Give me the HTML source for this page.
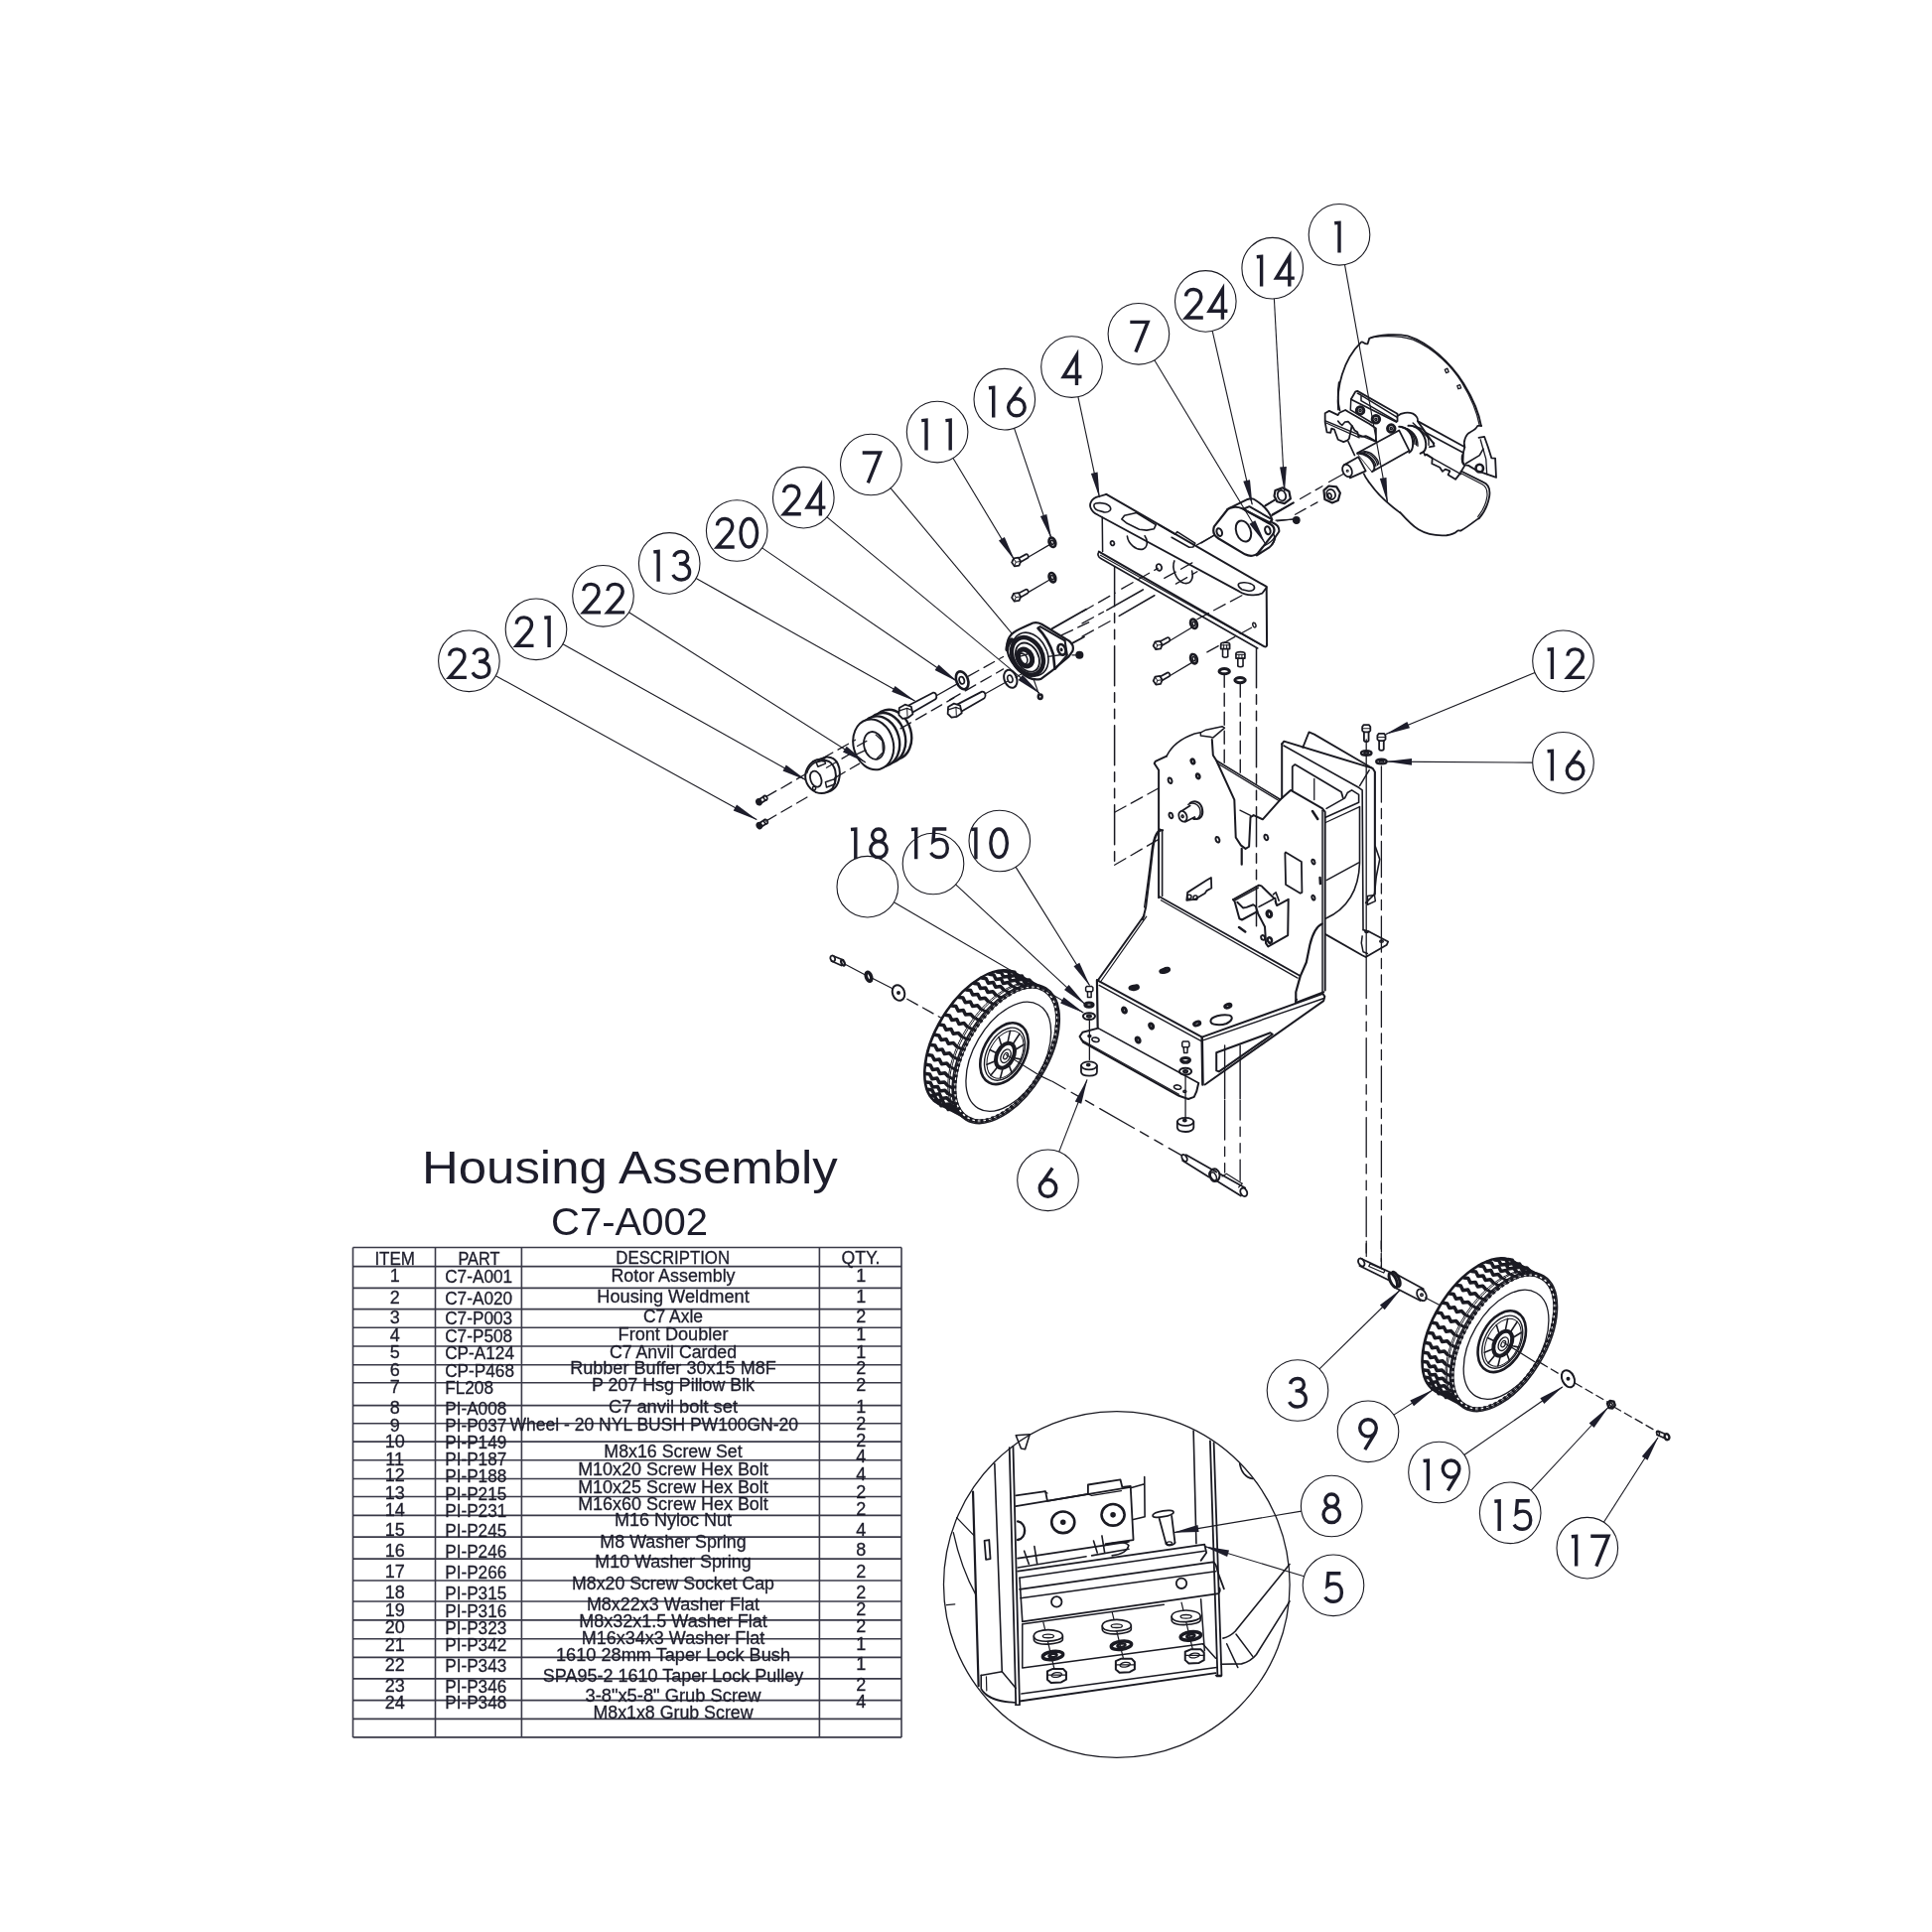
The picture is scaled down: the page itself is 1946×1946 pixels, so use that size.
<!DOCTYPE html>
<html><head><meta charset="utf-8"><style>
html,body{margin:0;padding:0;background:#fff;}
svg{display:block;will-change:transform;}
.bl{font-family:"Liberation Sans",sans-serif;font-size:43.5px;fill:#1d1d2b;text-anchor:middle;}
.ttl{font-family:"Liberation Sans",sans-serif;font-size:46px;fill:#1d1d2b;}
.ttl2{font-family:"Liberation Sans",sans-serif;font-size:38px;fill:#1d1d2b;}
.tb{font-family:"Liberation Sans",sans-serif;font-size:18px;fill:#1d1d2b;stroke:#1d1d2b;stroke-width:0.3px;}
</style></head><body>
<svg width="1946" height="1946" viewBox="0 0 1946 1946" xmlns="http://www.w3.org/2000/svg">
<rect width="1946" height="1946" fill="#fff"/>
<g fill="none" stroke="#1a1a22" stroke-linejoin="round" stroke-linecap="round">
<g transform="translate(1080,700) scale(0.175994)">
<path d="M495,1160 L495,430 L470,392 L476,380 L540,350" stroke-width="2.0" fill="none" vector-effect="non-scaling-stroke"/>
<path d="M515,1150 L515,775 L500,768" stroke-width="1.6" fill="none" vector-effect="non-scaling-stroke"/>
<path d="M540,350 C565,300 620,250 700,222 L735,215" stroke-width="1.6" fill="none" vector-effect="non-scaling-stroke"/>
<path d="M735,215 L765,200 L858,180 L872,188 L805,245 L790,240 L735,233 Z" stroke-width="1.5" fill="none" vector-effect="non-scaling-stroke"/>
<path d="M800,255 L806,345 L825,375 L928,600 L936,815 L965,860 L992,880 L1012,868 L1020,700 L1038,688 L1090,712 L1190,600" stroke-width="2.0" fill="none" vector-effect="non-scaling-stroke"/>
<path d="M960,660 L1020,690" stroke-width="1.3" fill="none" vector-effect="non-scaling-stroke"/>
<path d="M970,880 L970,970" stroke-width="2.2" fill="none" vector-effect="non-scaling-stroke"/>
<path d="M825,375 L1190,598" stroke-width="1.6" fill="none" vector-effect="non-scaling-stroke"/>
<path d="M832,392 L1180,604" stroke-width="1.3" fill="none" vector-effect="non-scaling-stroke"/>
<path d="M1190,600 L1250,545 L1432,650 L1447,670 L1447,1690" stroke-width="2.0" fill="none" vector-effect="non-scaling-stroke"/>
<path d="M1432,660 L1432,1700" stroke-width="1.5" fill="none" vector-effect="non-scaling-stroke"/>
<path d="M1430,1310 C1395,1325 1375,1370 1360,1430 L1340,1530 L1305,1610 L1280,1700 L1280,1760" stroke-width="2.2" fill="none" vector-effect="non-scaling-stroke"/>
<path d="M500,1155 L1300,1605" stroke-width="1.8" fill="none" vector-effect="non-scaling-stroke"/>
<path d="M508,1175 L1290,1620" stroke-width="1.3" fill="none" vector-effect="non-scaling-stroke"/>
<path d="M412,1262 L142,1640" stroke-width="1.8" fill="none" vector-effect="non-scaling-stroke"/>
<path d="M425,1268 L160,1645" stroke-width="1.2" fill="none" vector-effect="non-scaling-stroke"/>
<path d="M1280,1760 L1440,1700" stroke-width="1.8" fill="none" vector-effect="non-scaling-stroke"/>
<path d="M698.5,376.9 A9.0,14.0 -20.0 1,0 681.5,383.1 A9.0,14.0 -20.0 1,0 698.5,376.9 Z" stroke-width="2.5" fill="none" vector-effect="non-scaling-stroke"/>
<path d="M728.5,461.9 A9.0,14.0 -20.0 1,0 711.5,468.1 A9.0,14.0 -20.0 1,0 728.5,461.9 Z" stroke-width="2.5" fill="none" vector-effect="non-scaling-stroke"/>
<path d="M569.4,486.6 A10.0,16.0 -20.0 1,0 550.6,493.4 A10.0,16.0 -20.0 1,0 569.4,486.6 Z" stroke-width="2.0" fill="none" vector-effect="non-scaling-stroke"/>
<path d="M574.4,686.6 A10.0,16.0 -20.0 1,0 555.6,693.4 A10.0,16.0 -20.0 1,0 574.4,686.6 Z" stroke-width="2.0" fill="none" vector-effect="non-scaling-stroke"/>
<path d="M841.4,824.6 A10.0,16.0 -20.0 1,0 822.6,831.4 A10.0,16.0 -20.0 1,0 841.4,824.6 Z" stroke-width="2.0" fill="none" vector-effect="non-scaling-stroke"/>
<path d="M1119.4,811.6 A10.0,16.0 -20.0 1,0 1100.6,818.4 A10.0,16.0 -20.0 1,0 1119.4,811.6 Z" stroke-width="2.0" fill="none" vector-effect="non-scaling-stroke"/>
<path d="M1387.5,952.3 A8.0,13.0 -20.0 1,0 1372.5,957.7 A8.0,13.0 -20.0 1,0 1387.5,952.3 Z" stroke-width="2.0" fill="none" vector-effect="non-scaling-stroke"/>
<path d="M1387.5,1157.3 A8.0,13.0 -20.0 1,0 1372.5,1162.7 A8.0,13.0 -20.0 1,0 1387.5,1157.3 Z" stroke-width="2.0" fill="none" vector-effect="non-scaling-stroke"/>
<path d="M1137.4,1251.6 A10.0,16.0 -20.0 1,0 1118.6,1258.4 A10.0,16.0 -20.0 1,0 1137.4,1251.6 Z" stroke-width="2.0" fill="none" vector-effect="non-scaling-stroke"/>
<path d="M535.8,1577.2 A16.0,8.0 -10.0 1,0 504.2,1582.8 A16.0,8.0 -10.0 1,0 535.8,1577.2 Z" stroke-width="3.0" fill="none" vector-effect="non-scaling-stroke"/>
<path d="M360.8,1672.2 A16.0,8.0 -10.0 1,0 329.2,1677.8 A16.0,8.0 -10.0 1,0 360.8,1672.2 Z" stroke-width="3.0" fill="none" vector-effect="non-scaling-stroke"/>
<path d="M655,1175 L660,1130 L770,1060 L795,1045 L797,1105 L770,1120 L760,1135 L700,1170 Z" stroke-width="1.8" fill="none" vector-effect="non-scaling-stroke"/>
<path d="M682.0,1155.0 A12.0,12.0 0.0 1,0 658.0,1155.0 A12.0,12.0 0.0 1,0 682.0,1155.0 Z M717.0,1160.0 A12.0,12.0 0.0 1,0 693.0,1160.0 A12.0,12.0 0.0 1,0 717.0,1160.0 Z" stroke-width="1.5" fill="none" vector-effect="non-scaling-stroke"/>
<path d="M1218,905 L1222,900 L1312,955 L1315,1130 L1305,1135 L1222,1085 Z" stroke-width="1.8" fill="none" vector-effect="non-scaling-stroke"/>
<path d="M1375,665 L1405,710 M1418,1045 L1420,1080 M955,1330 L990,1355" stroke-width="2.5" fill="none" vector-effect="non-scaling-stroke"/>
<path d="M1200,280 L1212,265 L1720,420 L1732,440 L1732,1140" stroke-width="2.0" fill="none" vector-effect="non-scaling-stroke"/>
<path d="M1200,280 L1200,590" stroke-width="2.0" fill="none" vector-effect="non-scaling-stroke"/>
<path d="M1320,300 L1355,212 L1385,225 L1715,418" stroke-width="1.8" fill="none" vector-effect="non-scaling-stroke"/>
<path d="M1210,290 L1640,530 L1660,545 L1665,1340" stroke-width="1.6" fill="none" vector-effect="non-scaling-stroke"/>
<path d="M1645,520 L1700,430" stroke-width="1.5" fill="none" vector-effect="non-scaling-stroke"/>
<path d="M1260,410 L1275,398 L1540,555 L1550,590 M1260,410 L1260,545" stroke-width="1.8" fill="none" vector-effect="non-scaling-stroke"/>
<path d="M1385,480 L1385,600" stroke-width="1.3" fill="none" vector-effect="non-scaling-stroke"/>
<path d="M1450,700 L1640,615 L1640,570 L1600,545 L1575,560 L1560,590 L1455,650" stroke-width="1.6" fill="none" vector-effect="non-scaling-stroke"/>
<path d="M1450,730 L1645,640" stroke-width="1.3" fill="none" vector-effect="non-scaling-stroke"/>
<path d="M1455,1060 L1640,960" stroke-width="1.5" fill="none" vector-effect="non-scaling-stroke"/>
<path d="M1450,1280 C1560,1230 1640,1130 1645,960 L1645,640" stroke-width="1.6" fill="none" vector-effect="non-scaling-stroke"/>
<path d="M1732,440 L1732,860 L1760,940 L1740,1040 L1730,1140 L1700,1170 L1680,1190" stroke-width="1.6" fill="none" vector-effect="non-scaling-stroke"/>
<path d="M1690,1150 L1730,1145 L1735,1180 L1690,1200 Z" stroke-width="1.5" fill="none" vector-effect="non-scaling-stroke"/>
<path d="M1450,1370 L1660,1490 L1680,1500 L1800,1430 L1808,1412 L1700,1355 L1665,1345" stroke-width="1.8" fill="none" vector-effect="non-scaling-stroke"/>
<path d="M1660,1380 L1655,1420 L1665,1470 L1690,1480" stroke-width="1.5" fill="none" vector-effect="non-scaling-stroke"/>
<path d="M1780.0,1410.0 A10.0,6.0 0.0 1,0 1760.0,1410.0 A10.0,6.0 0.0 1,0 1780.0,1410.0 Z M1695.0,1355.0 A10.0,6.0 0.0 1,0 1675.0,1355.0 A10.0,6.0 0.0 1,0 1695.0,1355.0 Z" stroke-width="1.5" fill="none" vector-effect="non-scaling-stroke"/>
</g>
<g transform="translate(1060,940) scale(0.144928)">
<path d="M310,328 L315,652" stroke-width="2.2" fill="none" vector-effect="non-scaling-stroke"/>
<path d="M310,325 L1040,722" stroke-width="2.0" fill="none" vector-effect="non-scaling-stroke"/>
<path d="M325,362 L1032,748" stroke-width="1.4" fill="none" vector-effect="non-scaling-stroke"/>
<path d="M1040,722 L1880,420 L1893,440 L1885,470 L1060,1052" stroke-width="2.0" fill="none" vector-effect="non-scaling-stroke"/>
<path d="M1052,742 L1888,452" stroke-width="1.4" fill="none" vector-effect="non-scaling-stroke"/>
<path d="M1040,730 L1045,1052" stroke-width="2.6" fill="none" vector-effect="non-scaling-stroke"/>
<path d="M1690,470 L1700,460" stroke-width="1.5" fill="none" vector-effect="non-scaling-stroke"/>
<path d="M1140,830 L1515,692 L1530,702 L1158,962 L1140,955 Z" stroke-width="2.0" fill="none" vector-effect="non-scaling-stroke"/>
<path d="M318,660 L1018,1042" stroke-width="1.6" fill="none" vector-effect="non-scaling-stroke"/>
<path d="M318,660 L210,688 L190,718 L215,758 L880,1130 L945,1152 L985,1138 L1002,1100 L1015,1045" stroke-width="2.0" fill="none" vector-effect="non-scaling-stroke"/>
<path d="M200,740 L880,1120" stroke-width="1.2" fill="none" vector-effect="non-scaling-stroke"/>
<path d="M324.6,744.3 A25.0,14.0 10.0 1,0 275.4,735.7 A25.0,14.0 10.0 1,0 324.6,744.3 Z" stroke-width="1.6" fill="none" vector-effect="non-scaling-stroke"/>
<path d="M894.6,1074.3 A25.0,14.0 10.0 1,0 845.4,1065.7 A25.0,14.0 10.0 1,0 894.6,1074.3 Z" stroke-width="1.6" fill="none" vector-effect="non-scaling-stroke"/>
<path d="M268.0,715.0 A10.0,7.0 0.0 1,0 248.0,715.0 A10.0,7.0 0.0 1,0 268.0,715.0 Z" stroke-width="1.6" fill="none" vector-effect="non-scaling-stroke"/>
<path d="M930.0,1100.0 A10.0,7.0 0.0 1,0 910.0,1100.0 A10.0,7.0 0.0 1,0 930.0,1100.0 Z" stroke-width="1.6" fill="none" vector-effect="non-scaling-stroke"/>
<path d="M510.9,529.9 A12.0,18.0 -25.0 1,0 489.1,540.1 A12.0,18.0 -25.0 1,0 510.9,529.9 Z" stroke-width="3.0" fill="none" vector-effect="non-scaling-stroke"/>
<path d="M698.9,639.9 A12.0,18.0 -25.0 1,0 677.1,650.1 A12.0,18.0 -25.0 1,0 698.9,639.9 Z" stroke-width="3.0" fill="none" vector-effect="non-scaling-stroke"/>
<path d="M605.9,736.9 A12.0,18.0 -25.0 1,0 584.1,747.1 A12.0,18.0 -25.0 1,0 605.9,736.9 Z" stroke-width="3.0" fill="none" vector-effect="non-scaling-stroke"/>
<path d="M810.7,248.5 A22.0,12.0 -20.0 1,0 769.3,263.5 A22.0,12.0 -20.0 1,0 810.7,248.5 Z" stroke-width="3.0" fill="none" vector-effect="non-scaling-stroke"/>
<path d="M595.7,370.5 A22.0,12.0 -20.0 1,0 554.3,385.5 A22.0,12.0 -20.0 1,0 595.7,370.5 Z" stroke-width="3.0" fill="none" vector-effect="non-scaling-stroke"/>
<path d="M1240.7,497.5 A22.0,12.0 -20.0 1,0 1199.3,512.5 A22.0,12.0 -20.0 1,0 1240.7,497.5 Z" stroke-width="3.0" fill="none" vector-effect="non-scaling-stroke"/>
<path d="M1025.7,620.5 A22.0,12.0 -20.0 1,0 984.3,635.5 A22.0,12.0 -20.0 1,0 1025.7,620.5 Z" stroke-width="3.0" fill="none" vector-effect="non-scaling-stroke"/>
<path d="M1100,610 C1100,580 1180,560 1230,570 C1260,580 1250,610 1210,628 C1170,642 1100,640 1100,610 Z" stroke-width="2.0" fill="none" vector-effect="non-scaling-stroke"/>
<path d="M232,378 L238,370 L275,370 L282,378 L282,398 L275,405 L238,405 L232,398 Z M245,405 L245,445 L270,445 L270,405" stroke-width="1.5" fill="none" vector-effect="non-scaling-stroke"/>
<path d="M283.0,497.0 A28.0,14.0 0.0 1,0 227.0,497.0 A28.0,14.0 0.0 1,0 283.0,497.0 Z" stroke-width="3.2" fill="none" vector-effect="non-scaling-stroke"/>
<path d="M297.0,577.0 A42.0,24.0 0.0 1,0 213.0,577.0 A42.0,24.0 0.0 1,0 297.0,577.0 Z M269.0,577.0 A14.0,7.0 0.0 1,0 241.0,577.0 A14.0,7.0 0.0 1,0 269.0,577.0 Z" stroke-width="2.0" fill="none" vector-effect="non-scaling-stroke"/>
<path d="M258,605 L258,880" stroke-width="1.3" fill="none" vector-effect="non-scaling-stroke"/>
<path d="M200,920 L200,965 C205,1000 310,1000 310,965 L310,920" stroke-width="1.8" fill="none" vector-effect="non-scaling-stroke"/>
<path d="M200,920 a55,28 0 1,0 110,0 a55,28 0 1,0 -110,0" stroke-width="1.8" fill="none" vector-effect="non-scaling-stroke"/>
<path d="M258.0,915.0 A8.0,5.0 0.0 1,0 242.0,915.0 A8.0,5.0 0.0 1,0 258.0,915.0 Z" stroke-width="2.5" fill="none" vector-effect="non-scaling-stroke"/>
<path d="M902,762 L908,752 L945,752 L952,762 L952,785 L945,792 L908,792 L902,785 Z M912,792 L915,832 L938,832 L940,792" stroke-width="1.5" fill="none" vector-effect="non-scaling-stroke"/>
<path d="M955.0,882.0 A30.0,16.0 0.0 1,0 895.0,882.0 A30.0,16.0 0.0 1,0 955.0,882.0 Z" stroke-width="3.2" fill="none" vector-effect="non-scaling-stroke"/>
<path d="M967.0,960.0 A42.0,24.0 0.0 1,0 883.0,960.0 A42.0,24.0 0.0 1,0 967.0,960.0 Z M939.0,960.0 A14.0,7.0 0.0 1,0 911.0,960.0 A14.0,7.0 0.0 1,0 939.0,960.0 Z" stroke-width="2.0" fill="none" vector-effect="non-scaling-stroke"/>
<path d="M925,985 L925,1290" stroke-width="1.3" fill="none" vector-effect="non-scaling-stroke"/>
<path d="M868,1310 L868,1350 C872,1390 980,1390 982,1350 L982,1310" stroke-width="1.8" fill="none" vector-effect="non-scaling-stroke"/>
<path d="M868,1310 a57,28 0 1,0 114,0 a57,28 0 1,0 -114,0" stroke-width="1.8" fill="none" vector-effect="non-scaling-stroke"/>
<path d="M928.0,1300.0 A8.0,5.0 0.0 1,0 912.0,1300.0 A8.0,5.0 0.0 1,0 928.0,1300.0 Z" stroke-width="2.5" fill="none" vector-effect="non-scaling-stroke"/>
<path d="M930,1540 L1140,1660 M905,1580 L1090,1695" stroke-width="1.8" fill="none" vector-effect="non-scaling-stroke"/>
<path d="M931.9,1554.0 A16.0,26.0 -30.0 1,0 904.1,1570.0 A16.0,26.0 -30.0 1,0 931.9,1554.0 Z" stroke-width="1.8" fill="none" vector-effect="non-scaling-stroke"/>
<path d="M1095,1690 C1080,1665 1110,1630 1140,1640 C1160,1655 1170,1670 1160,1700 C1150,1730 1110,1740 1095,1690 Z" stroke-width="2.0" fill="none" vector-effect="non-scaling-stroke"/>
<path d="M1135.6,1681.0 A18.0,30.0 -30.0 1,0 1104.4,1699.0 A18.0,30.0 -30.0 1,0 1135.6,1681.0 Z" stroke-width="1.5" fill="none" vector-effect="non-scaling-stroke"/>
<path d="M1160,1670 L1340,1770 M1140,1720 L1310,1825" stroke-width="1.8" fill="none" vector-effect="non-scaling-stroke"/>
<path d="M1349.1,1789.0 A22.0,30.0 -30.0 1,0 1310.9,1811.0 A22.0,30.0 -30.0 1,0 1349.1,1789.0 Z" stroke-width="1.8" fill="none" vector-effect="non-scaling-stroke"/>
<path d="M1180,1690 L1210,1672 L1320,1740 M1295,1765 L1320,1740" stroke-width="1.2" fill="none" vector-effect="non-scaling-stroke"/>
</g>
<g transform="translate(1060,940) scale(0.144928)">
<path d="M0,1030 L900,1545" stroke-width="1.3" fill="none" vector-effect="non-scaling-stroke" stroke-dasharray="40,7,9.5,7,9.5,7" stroke-dashoffset="25"/>
<path d="M1198,780 L1198,1150 M1305,780 L1305,1150" stroke-width="1.4" fill="none" vector-effect="non-scaling-stroke"/>
<path d="M1198,1160 L1198,1690" stroke-width="1.3" fill="none" vector-effect="non-scaling-stroke" stroke-dasharray="40,7,9.5,7,9.5,7"/>
<path d="M1305,1160 L1305,1720" stroke-width="1.3" fill="none" vector-effect="non-scaling-stroke" stroke-dasharray="40,7,9.5,7,9.5,7" stroke-dashoffset="20"/>
</g>
<circle cx="1124.8" cy="1596" r="174.3" stroke-width="1.3" fill="none"/>
<g transform="translate(945,1415) scale(0.186324)">
<path d="M188,470 L218,1520" stroke-width="2.2" fill="none" vector-effect="non-scaling-stroke"/>
<path d="M305,318 L345,1442" stroke-width="1.6" fill="none" vector-effect="non-scaling-stroke"/>
<path d="M385,232 L420,1622" stroke-width="1.8" fill="none" vector-effect="non-scaling-stroke"/>
<path d="M405,225 L440,1620" stroke-width="1.8" fill="none" vector-effect="non-scaling-stroke"/>
<path d="M100,610 L192,705" stroke-width="1.3" fill="none" vector-effect="non-scaling-stroke"/>
<path d="M82,690 C110,820 150,930 205,1030" stroke-width="1.3" fill="none" vector-effect="non-scaling-stroke"/>
<path d="M250,735 L275,730 L282,832 L258,836 Z" stroke-width="1.8" fill="none" vector-effect="non-scaling-stroke"/>
<path d="M45,1082 L90,1078" stroke-width="1.3" fill="none" vector-effect="non-scaling-stroke"/>
<path d="M420,165 L495,160 L470,240 L448,236 Z" stroke-width="1.6" fill="none" vector-effect="non-scaling-stroke"/>
<path d="M1630,320 C1640,370 1670,395 1700,400" stroke-width="1.6" fill="none" vector-effect="non-scaling-stroke"/>
<path d="M1380,140 L1395,750" stroke-width="1.6" fill="none" vector-effect="non-scaling-stroke"/>
<path d="M1470,195 L1510,1462" stroke-width="1.8" fill="none" vector-effect="non-scaling-stroke"/>
<path d="M1490,205 L1532,1462" stroke-width="1.8" fill="none" vector-effect="non-scaling-stroke"/>
<path d="M1500,1462 L1530,1462" stroke-width="1.5" fill="none" vector-effect="non-scaling-stroke"/>
<path d="M1540,1262 C1570,1255 1590,1240 1605,1225 L1900,862" stroke-width="1.6" fill="none" vector-effect="non-scaling-stroke"/>
<path d="M1610,1240 L1700,1360" stroke-width="1.5" fill="none" vector-effect="non-scaling-stroke"/>
<path d="M1560,1292 L1620,1420" stroke-width="1.5" fill="none" vector-effect="non-scaling-stroke"/>
<path d="M1530,1402 L1640,1400 C1680,1390 1700,1375 1720,1350 L1900,1062" stroke-width="1.6" fill="none" vector-effect="non-scaling-stroke"/>
<path d="M232,1462 L345,1442" stroke-width="1.5" fill="none" vector-effect="non-scaling-stroke"/>
<path d="M232,1462 L232,1535 C260,1585 320,1605 420,1610" stroke-width="1.6" fill="none" vector-effect="non-scaling-stroke"/>
<path d="M260,1470 L262,1545" stroke-width="1.2" fill="none" vector-effect="non-scaling-stroke"/>
<path d="M345,1442 L420,1532" stroke-width="1.5" fill="none" vector-effect="non-scaling-stroke"/>
<path d="M440,1602 L1500,1450" stroke-width="1.8" fill="none" vector-effect="non-scaling-stroke"/>
<path d="M450,1562 L1505,1420" stroke-width="1.5" fill="none" vector-effect="non-scaling-stroke"/>
<path d="M455,1422 L1430,1292" stroke-width="1.5" fill="none" vector-effect="non-scaling-stroke"/>
<path d="M1430,1292 L1500,1370" stroke-width="1.5" fill="none" vector-effect="non-scaling-stroke"/>
<path d="M418,1622 L440,1622 M1505,1468 L1530,1468" stroke-width="1.5" fill="none" vector-effect="non-scaling-stroke"/>
<path d="M420,490 L580,468 L590,520 L810,482 L810,432 L985,405 L995,445 L1040,440" stroke-width="1.8" fill="none" vector-effect="non-scaling-stroke"/>
<path d="M420,548 L1040,445 L1055,730 L905,752" stroke-width="1.8" fill="none" vector-effect="non-scaling-stroke"/>
<path d="M810,482 L830,490 L990,465 M575,468 L590,478" stroke-width="1.3" fill="none" vector-effect="non-scaling-stroke"/>
<path d="M1040,450 L1115,428 M1055,620 L1117,605 M1115,390 L1117,605" stroke-width="1.6" fill="none" vector-effect="non-scaling-stroke"/>
<path d="M737.0,635.0 A62.0,58.0 0.0 1,0 613.0,635.0 A62.0,58.0 0.0 1,0 737.0,635.0 Z M683.0,635.0 A8.0,8.0 0.0 1,0 667.0,635.0 A8.0,8.0 0.0 1,0 683.0,635.0 Z" stroke-width="2.6" fill="none" vector-effect="non-scaling-stroke"/>
<path d="M1007.0,595.0 A62.0,58.0 0.0 1,0 883.0,595.0 A62.0,58.0 0.0 1,0 1007.0,595.0 Z M953.0,595.0 A8.0,8.0 0.0 1,0 937.0,595.0 A8.0,8.0 0.0 1,0 953.0,595.0 Z" stroke-width="2.6" fill="none" vector-effect="non-scaling-stroke"/>
<path d="M430,630 C480,640 480,720 430,730" stroke-width="2.4" fill="none" vector-effect="non-scaling-stroke"/>
<path d="M430,830 L1030,740" stroke-width="1.8" fill="none" vector-effect="non-scaling-stroke"/>
<path d="M430,880 L800,820 M830,815 L1030,780" stroke-width="1.6" fill="none" vector-effect="non-scaling-stroke"/>
<path d="M465,790 L490,860 M520,765 L535,860 M840,735 L860,800 M885,708 L900,800" stroke-width="1.6" fill="none" vector-effect="non-scaling-stroke"/>
<path d="M900,760 C960,740 1010,740 1030,760 C1020,800 980,810 940,815" stroke-width="1.6" fill="none" vector-effect="non-scaling-stroke"/>
<path d="M430,900 L1440,755 L1450,800 L1420,842" stroke-width="1.8" fill="none" vector-effect="non-scaling-stroke"/>
<path d="M440,935 L1440,790" stroke-width="1.6" fill="none" vector-effect="non-scaling-stroke"/>
<path d="M440,998 L1485,850 C1500,855 1505,870 1510,900 L1545,995" stroke-width="1.8" fill="none" vector-effect="non-scaling-stroke"/>
<path d="M445,1045 L1500,900" stroke-width="1.5" fill="none" vector-effect="non-scaling-stroke"/>
<path d="M440,935 L455,1170" stroke-width="1.6" fill="none" vector-effect="non-scaling-stroke"/>
<path d="M455,1172 L1515,1020 C1525,1010 1525,1000 1520,990" stroke-width="1.8" fill="none" vector-effect="non-scaling-stroke"/>
<path d="M460,1185 L1220,1080" stroke-width="1.5" fill="none" vector-effect="non-scaling-stroke"/>
<path d="M668.0,1065.0 A28.0,28.0 0.0 1,0 612.0,1065.0 A28.0,28.0 0.0 1,0 668.0,1065.0 Z" stroke-width="1.8" fill="none" vector-effect="non-scaling-stroke"/>
<path d="M1343.0,965.0 A28.0,28.0 0.0 1,0 1287.0,965.0 A28.0,28.0 0.0 1,0 1343.0,965.0 Z" stroke-width="1.8" fill="none" vector-effect="non-scaling-stroke"/>
<path d="M1420,1050 L1440,1330" stroke-width="1.5" fill="none" vector-effect="non-scaling-stroke"/>
<path d="M455,1185 L455,1420" stroke-width="1.5" fill="none" vector-effect="non-scaling-stroke"/>
<path d="M1160,600 C1160,575 1270,560 1272,580 C1275,600 1160,620 1160,600 Z" stroke-width="1.8" fill="none" vector-effect="non-scaling-stroke"/>
<path d="M1195,615 L1232,752 M1262,600 L1280,745" stroke-width="1.8" fill="none" vector-effect="non-scaling-stroke"/>
<path d="M1232,752 C1240,765 1275,760 1280,745" stroke-width="1.8" fill="none" vector-effect="non-scaling-stroke"/>
<path d="M1264.0,748.0 A14.0,8.0 0.0 1,0 1236.0,748.0 A14.0,8.0 0.0 1,0 1264.0,748.0 Z" stroke-width="1.3" fill="none" vector-effect="non-scaling-stroke"/>
<path d="M568,1175 L640,1480 M940,1120 L1010,1410 M1315,1068 L1385,1360" stroke-width="1.2" fill="none" vector-effect="non-scaling-stroke"/>
<path d="M517,1250 C517,1205 673,1205 673,1250 C673,1280 517,1295 517,1250 Z" stroke-width="1.6" fill="#fff" vector-effect="non-scaling-stroke"/>
<path d="M517,1250 L517,1268 C517,1310 673,1295 673,1268 L673,1250" stroke-width="1.6" fill="none" vector-effect="non-scaling-stroke"/>
<path d="M625.0,1250.0 A30.0,10.0 0.0 1,0 565.0,1250.0 A30.0,10.0 0.0 1,0 625.0,1250.0 Z" stroke-width="1.3" fill="none" vector-effect="non-scaling-stroke"/>
<path d="M674.5,1347.3 A55.0,22.0 -8.0 1,0 565.5,1362.7 A55.0,22.0 -8.0 1,0 674.5,1347.3 Z" stroke-width="3.5" fill="none" vector-effect="non-scaling-stroke"/>
<path d="M641.8,1351.9 A22.0,9.0 -8.0 1,0 598.2,1358.1 A22.0,9.0 -8.0 1,0 641.8,1351.9 Z" stroke-width="2.5" fill="none" vector-effect="non-scaling-stroke"/>
<path d="M590,1440 L620,1427 L675,1427 L692,1445 L692,1485 L665,1500 L610,1503 L590,1485 Z" stroke-width="2.0" fill="#fff" vector-effect="non-scaling-stroke"/>
<path d="M667.7,1456.1 A28.0,12.0 -8.0 1,0 612.3,1463.9 A28.0,12.0 -8.0 1,0 667.7,1456.1 Z M590,1460 L692,1460" stroke-width="1.3" fill="none" vector-effect="non-scaling-stroke"/>
<path d="M887,1195 C887,1150 1043,1150 1043,1195 C1043,1225 887,1240 887,1195 Z" stroke-width="1.6" fill="#fff" vector-effect="non-scaling-stroke"/>
<path d="M887,1195 L887,1213 C887,1255 1043,1240 1043,1213 L1043,1195" stroke-width="1.6" fill="none" vector-effect="non-scaling-stroke"/>
<path d="M995.0,1195.0 A30.0,10.0 0.0 1,0 935.0,1195.0 A30.0,10.0 0.0 1,0 995.0,1195.0 Z" stroke-width="1.3" fill="none" vector-effect="non-scaling-stroke"/>
<path d="M1044.5,1292.3 A55.0,22.0 -8.0 1,0 935.5,1307.7 A55.0,22.0 -8.0 1,0 1044.5,1292.3 Z" stroke-width="3.5" fill="none" vector-effect="non-scaling-stroke"/>
<path d="M1011.8,1296.9 A22.0,9.0 -8.0 1,0 968.2,1303.1 A22.0,9.0 -8.0 1,0 1011.8,1296.9 Z" stroke-width="2.5" fill="none" vector-effect="non-scaling-stroke"/>
<path d="M960,1385 L990,1372 L1045,1372 L1062,1390 L1062,1430 L1035,1445 L980,1448 L960,1430 Z" stroke-width="2.0" fill="#fff" vector-effect="non-scaling-stroke"/>
<path d="M1037.7,1401.1 A28.0,12.0 -8.0 1,0 982.3,1408.9 A28.0,12.0 -8.0 1,0 1037.7,1401.1 Z M960,1405 L1062,1405" stroke-width="1.3" fill="none" vector-effect="non-scaling-stroke"/>
<path d="M1262,1145 C1262,1100 1418,1100 1418,1145 C1418,1175 1262,1190 1262,1145 Z" stroke-width="1.6" fill="#fff" vector-effect="non-scaling-stroke"/>
<path d="M1262,1145 L1262,1163 C1262,1205 1418,1190 1418,1163 L1418,1145" stroke-width="1.6" fill="none" vector-effect="non-scaling-stroke"/>
<path d="M1370.0,1145.0 A30.0,10.0 0.0 1,0 1310.0,1145.0 A30.0,10.0 0.0 1,0 1370.0,1145.0 Z" stroke-width="1.3" fill="none" vector-effect="non-scaling-stroke"/>
<path d="M1419.5,1242.3 A55.0,22.0 -8.0 1,0 1310.5,1257.7 A55.0,22.0 -8.0 1,0 1419.5,1242.3 Z" stroke-width="3.5" fill="none" vector-effect="non-scaling-stroke"/>
<path d="M1386.8,1246.9 A22.0,9.0 -8.0 1,0 1343.2,1253.1 A22.0,9.0 -8.0 1,0 1386.8,1246.9 Z" stroke-width="2.5" fill="none" vector-effect="non-scaling-stroke"/>
<path d="M1335,1335 L1365,1322 L1420,1322 L1437,1340 L1437,1380 L1410,1395 L1355,1398 L1335,1380 Z" stroke-width="2.0" fill="#fff" vector-effect="non-scaling-stroke"/>
<path d="M1412.7,1351.1 A28.0,12.0 -8.0 1,0 1357.3,1358.9 A28.0,12.0 -8.0 1,0 1412.7,1351.1 Z M1335,1355 L1437,1355" stroke-width="1.3" fill="none" vector-effect="non-scaling-stroke"/>
</g>
<g transform="translate(950,400) scale(0.186324)">
<path d="M882,525 L1748,1025" stroke-width="2.0" fill="none" vector-effect="non-scaling-stroke"/>
<path d="M882,525 L840,538 C800,548 788,580 798,600 C808,625 828,632 842,640 L1600,1050 C1640,1075 1700,1075 1725,1060 L1748,1030" stroke-width="1.8" fill="none" vector-effect="non-scaling-stroke"/>
<path d="M815,585 C815,565 880,570 900,590 C915,610 895,625 870,622 L835,612 C820,605 815,595 815,585 Z" stroke-width="1.6" fill="none" vector-effect="non-scaling-stroke"/>
<path d="M1595,1015 C1595,995 1660,1000 1680,1020 C1690,1040 1670,1050 1650,1048 L1615,1040 C1600,1030 1595,1025 1595,1015 Z" stroke-width="1.6" fill="none" vector-effect="non-scaling-stroke"/>
<path d="M965,660 L980,640 L1045,625 L1150,690 L1140,712 L1100,720 L1060,715 L990,680 Z" stroke-width="1.6" fill="none" vector-effect="non-scaling-stroke"/>
<path d="M1165,690 L1255,742 L1265,728 L1362,790 L1352,810 L1330,812 L1235,758" stroke-width="1.6" fill="none" vector-effect="non-scaling-stroke"/>
<path d="M860,650 L862,835" stroke-width="1.5" fill="none" vector-effect="non-scaling-stroke"/>
<path d="M1748,1030 L1750,1335" stroke-width="2.0" fill="none" vector-effect="non-scaling-stroke"/>
<path d="M842,835 L1735,1348 C1745,1352 1752,1345 1750,1335" stroke-width="2.0" fill="none" vector-effect="non-scaling-stroke"/>
<path d="M842,835 C832,850 838,865 852,872 L1700,1358" stroke-width="1.6" fill="none" vector-effect="non-scaling-stroke"/>
<path d="M850,855 L1720,1340" stroke-width="1.2" fill="none" vector-effect="non-scaling-stroke"/>
<path d="M995,752 C1000,790 1040,830 1080,822 C1110,810 1105,770 1090,750" stroke-width="1.6" fill="none" vector-effect="non-scaling-stroke"/>
<path d="M1250,885 C1235,920 1255,990 1300,1005 C1340,1015 1355,980 1345,940" stroke-width="1.6" fill="none" vector-effect="non-scaling-stroke"/>
<path d="M924.4,786.6 A10.0,12.0 -20.0 1,0 905.6,793.4 A10.0,12.0 -20.0 1,0 924.4,786.6 Z" stroke-width="1.8" fill="none" vector-effect="non-scaling-stroke"/>
<path d="M1180.2,915.2 A14.0,18.0 -20.0 1,0 1153.8,924.8 A14.0,18.0 -20.0 1,0 1180.2,915.2 Z" stroke-width="1.8" fill="none" vector-effect="non-scaling-stroke"/>
<path d="M1689.5,1229.3 A8.0,12.0 -20.0 1,0 1674.5,1234.7 A8.0,12.0 -20.0 1,0 1689.5,1229.3 Z" stroke-width="1.5" fill="none" vector-effect="non-scaling-stroke"/>
<path d="M1795,505 L1835,490 L1870,510 L1878,550 L1845,575 L1805,565 L1790,535 Z" stroke-width="2.2" fill="#fff" vector-effect="non-scaling-stroke"/>
<path d="M1850.7,524.5 A22.0,28.0 -20.0 1,0 1809.3,539.5 A22.0,28.0 -20.0 1,0 1850.7,524.5 Z" stroke-width="1.8" fill="none" vector-effect="non-scaling-stroke"/>
<path d="M1922.0,668.0 A12.0,12.0 0.0 1,0 1898.0,668.0 A12.0,12.0 0.0 1,0 1922.0,668.0 Z" stroke-width="2.5" fill="none" vector-effect="non-scaling-stroke"/>
<path d="M1805,670 L1890,660" stroke-width="1.2" fill="none" vector-effect="non-scaling-stroke"/>
<path d="M1740,585 L1800,550" stroke-width="1.3" fill="none" vector-effect="non-scaling-stroke"/>
<path d="M455,868 L580,795" stroke-width="1.2" fill="none" vector-effect="non-scaling-stroke"/>
<path d="M455,1058 L580,985" stroke-width="1.2" fill="none" vector-effect="non-scaling-stroke"/>
<path d="M1220,1320 L1345,1245" stroke-width="1.2" fill="none" vector-effect="non-scaling-stroke"/>
<path d="M1220,1510 L1345,1435" stroke-width="1.2" fill="none" vector-effect="non-scaling-stroke"/>
<path d="M1370,800 L1460,750" stroke-width="1.3" fill="none" vector-effect="non-scaling-stroke"/>
<path d="M1501,1337 C1501,1323 1549,1323 1549,1337 L1549,1361 L1501,1361 Z" stroke-width="1.7" fill="#fff" vector-effect="non-scaling-stroke"/>
<path d="M1501,1341 L1549,1341 M1517,1341 L1517,1361 M1533,1341 L1533,1361" stroke-width="1.0" fill="none" vector-effect="non-scaling-stroke"/>
<path d="M1511,1361 L1511,1403 C1517,1409 1533,1409 1539,1403 L1539,1361" stroke-width="1.6" fill="none" vector-effect="non-scaling-stroke"/>
<path d="M1583,1388 C1583,1374 1631,1374 1631,1388 L1631,1412 L1583,1412 Z" stroke-width="1.7" fill="#fff" vector-effect="non-scaling-stroke"/>
<path d="M1583,1392 L1631,1392 M1599,1392 L1599,1412 M1615,1392 L1615,1412" stroke-width="1.0" fill="none" vector-effect="non-scaling-stroke"/>
<path d="M1593,1412 L1593,1454 C1599,1460 1615,1460 1621,1454 L1621,1412" stroke-width="1.6" fill="none" vector-effect="non-scaling-stroke"/>
<path d="M1548.0,1482.0 A28.0,14.0 0.0 1,0 1492.0,1482.0 A28.0,14.0 0.0 1,0 1548.0,1482.0 Z" stroke-width="3.0" fill="none" vector-effect="non-scaling-stroke"/>
<path d="M1633.0,1530.0 A28.0,14.0 0.0 1,0 1577.0,1530.0 A28.0,14.0 0.0 1,0 1633.0,1530.0 Z" stroke-width="3.0" fill="none" vector-effect="non-scaling-stroke"/>
<path d="M403,873 L447,850 C457,846 465,862 457,870 L415,894" stroke-width="1.7" fill="#fff" vector-effect="non-scaling-stroke"/>
<path d="M371,894 L381,872 L407,868 L419,888 L411,910 L385,914 Z" stroke-width="1.8" fill="#fff" vector-effect="non-scaling-stroke"/>
<path d="M381,872 L393,892 L385,914 M393,892 L419,888" stroke-width="1.0" fill="none" vector-effect="non-scaling-stroke"/>
<path d="M403,1063 L447,1040 C457,1036 465,1052 457,1060 L415,1084" stroke-width="1.7" fill="#fff" vector-effect="non-scaling-stroke"/>
<path d="M371,1084 L381,1062 L407,1058 L419,1078 L411,1100 L385,1104 Z" stroke-width="1.8" fill="#fff" vector-effect="non-scaling-stroke"/>
<path d="M381,1062 L393,1082 L385,1104 M393,1082 L419,1078" stroke-width="1.0" fill="none" vector-effect="non-scaling-stroke"/>
<path d="M1168,1323 L1212,1300 C1222,1296 1230,1312 1222,1320 L1180,1344" stroke-width="1.7" fill="#fff" vector-effect="non-scaling-stroke"/>
<path d="M1136,1344 L1146,1322 L1172,1318 L1184,1338 L1176,1360 L1150,1364 Z" stroke-width="1.8" fill="#fff" vector-effect="non-scaling-stroke"/>
<path d="M1146,1322 L1158,1342 L1150,1364 M1158,1342 L1184,1338" stroke-width="1.0" fill="none" vector-effect="non-scaling-stroke"/>
<path d="M1168,1513 L1212,1490 C1222,1486 1230,1502 1222,1510 L1180,1534" stroke-width="1.7" fill="#fff" vector-effect="non-scaling-stroke"/>
<path d="M1136,1534 L1146,1512 L1172,1508 L1184,1528 L1176,1550 L1150,1554 Z" stroke-width="1.8" fill="#fff" vector-effect="non-scaling-stroke"/>
<path d="M1146,1512 L1158,1532 L1150,1554 M1158,1532 L1184,1528" stroke-width="1.0" fill="none" vector-effect="non-scaling-stroke"/>
<path d="M606.0,779.2 A17.0,26.0 -20.0 1,0 574.0,790.8 A17.0,26.0 -20.0 1,0 606.0,779.2 Z" stroke-width="2.6" fill="#fff" vector-effect="non-scaling-stroke"/>
<path d="M597.2,782.4 A7.65,11.700000000000001 -20.0 1,0 582.8,787.6 A7.65,11.700000000000001 -20.0 1,0 597.2,782.4 Z" stroke-width="1.6" fill="none" vector-effect="non-scaling-stroke"/>
<path d="M606.0,969.2 A17.0,26.0 -20.0 1,0 574.0,980.8 A17.0,26.0 -20.0 1,0 606.0,969.2 Z" stroke-width="2.6" fill="#fff" vector-effect="non-scaling-stroke"/>
<path d="M597.2,972.4 A7.65,11.700000000000001 -20.0 1,0 582.8,977.6 A7.65,11.700000000000001 -20.0 1,0 597.2,972.4 Z" stroke-width="1.6" fill="none" vector-effect="non-scaling-stroke"/>
<path d="M1371.0,1219.2 A17.0,26.0 -20.0 1,0 1339.0,1230.8 A17.0,26.0 -20.0 1,0 1371.0,1219.2 Z" stroke-width="2.6" fill="#fff" vector-effect="non-scaling-stroke"/>
<path d="M1362.2,1222.4 A7.65,11.700000000000001 -20.0 1,0 1347.8,1227.6 A7.65,11.700000000000001 -20.0 1,0 1362.2,1222.4 Z" stroke-width="1.6" fill="none" vector-effect="non-scaling-stroke"/>
<path d="M1371.0,1409.2 A17.0,26.0 -20.0 1,0 1339.0,1420.8 A17.0,26.0 -20.0 1,0 1371.0,1409.2 Z" stroke-width="2.6" fill="#fff" vector-effect="non-scaling-stroke"/>
<path d="M1362.2,1412.4 A7.65,11.700000000000001 -20.0 1,0 1347.8,1417.6 A7.65,11.700000000000001 -20.0 1,0 1362.2,1412.4 Z" stroke-width="1.6" fill="none" vector-effect="non-scaling-stroke"/>
</g>
<g transform="translate(0,0) scale(1.000000)">
</g>
<g transform="translate(700,560) scale(0.207039)">
<path d="M306,1188 L338,1168 M316,1206 L348,1186" stroke-width="1.8" fill="none" vector-effect="non-scaling-stroke"/>
<path d="M319.7,1192.0 A10.0,13.0 -30.0 1,0 302.3,1202.0 A10.0,13.0 -30.0 1,0 319.7,1192.0 Z" stroke-width="2.4" fill="#1a1a22" vector-effect="non-scaling-stroke"/>
<path d="M349.9,1173.0 A8.0,11.0 -30.0 1,0 336.1,1181.0 A8.0,11.0 -30.0 1,0 349.9,1173.0 Z" stroke-width="1.6" fill="none" vector-effect="non-scaling-stroke"/>
<path d="M308,1303 L340,1283 M318,1321 L350,1301" stroke-width="1.8" fill="none" vector-effect="non-scaling-stroke"/>
<path d="M321.7,1307.0 A10.0,13.0 -30.0 1,0 304.3,1317.0 A10.0,13.0 -30.0 1,0 321.7,1307.0 Z" stroke-width="2.4" fill="#1a1a22" vector-effect="non-scaling-stroke"/>
<path d="M351.9,1288.0 A8.0,11.0 -30.0 1,0 338.1,1296.0 A8.0,11.0 -30.0 1,0 351.9,1288.0 Z" stroke-width="1.6" fill="none" vector-effect="non-scaling-stroke"/>
<path d="M575,1000 L640,978 C690,975 715,1030 700,1090 C690,1130 660,1150 630,1150 L590,1150" stroke-width="2.0" fill="#fff" vector-effect="non-scaling-stroke"/>
<path d="M540,1050 C530,1085 545,1130 590,1150 C620,1160 650,1150 670,1130 L682,1100 C692,1060 682,1020 652,1000 L622,990 C582,985 552,1012 540,1050 Z" stroke-width="2.0" fill="#fff" vector-effect="non-scaling-stroke"/>
<path d="M545,1055 C560,1010 600,990 630,1000" stroke-width="1.4" fill="none" vector-effect="non-scaling-stroke"/>
<path d="M612.4,1076.1 A26.0,38.0 -20.0 1,0 563.6,1093.9 A26.0,38.0 -20.0 1,0 612.4,1076.1 Z" stroke-width="1.8" fill="none" vector-effect="non-scaling-stroke"/>
<path d="M590,1005 L630,990 L635,1010 L598,1025 Z" stroke-width="1.5" fill="none" vector-effect="non-scaling-stroke"/>
<path d="M635,1100 L680,1085 L682,1110 L640,1125 Z" stroke-width="1.5" fill="none" vector-effect="non-scaling-stroke"/>
<path d="M588.0,1130.0 A8.0,8.0 0.0 1,0 572.0,1130.0 A8.0,8.0 0.0 1,0 588.0,1130.0 Z" stroke-width="1.5" fill="none" vector-effect="non-scaling-stroke"/>
<path d="M1048.7,844.9 A97.0,124.0 -15.0 1,0 861.3,895.1 A97.0,124.0 -15.0 1,0 1048.7,844.9 Z" stroke-width="2.4" fill="#fff" vector-effect="non-scaling-stroke"/>
<path d="M1019.7,860.9 A97.0,124.0 -15.0 1,0 832.3,911.1 A97.0,124.0 -15.0 1,0 1019.7,860.9 Z" stroke-width="2.4" fill="#fff" vector-effect="non-scaling-stroke"/>
<path d="M990.7,876.9 A97.0,124.0 -15.0 1,0 803.3,927.1 A97.0,124.0 -15.0 1,0 990.7,876.9 Z" stroke-width="2.4" fill="#fff" vector-effect="non-scaling-stroke"/>
<path d="M961.7,891.9 A97.0,124.0 -15.0 1,0 774.3,942.1 A97.0,124.0 -15.0 1,0 961.7,891.9 Z" stroke-width="2.0" fill="#fff" vector-effect="non-scaling-stroke"/>
<path d="M917.4,909.6 A48.0,68.0 -15.0 1,0 824.6,934.4 A48.0,68.0 -15.0 1,0 917.4,909.6 Z" stroke-width="1.8" fill="none" vector-effect="non-scaling-stroke"/>
<path d="M880,870 L912,900 L915,955 L885,985" stroke-width="1.3" fill="none" vector-effect="non-scaling-stroke"/>
<path d="M790,925 L835,900 M785,965 L830,945" stroke-width="1.3" fill="none" vector-effect="non-scaling-stroke"/>
<path d="M1326.3,595.4 A28.0,44.0 -20.0 1,0 1273.7,614.6 A28.0,44.0 -20.0 1,0 1326.3,595.4 Z" stroke-width="2.6" fill="#fff" vector-effect="non-scaling-stroke"/>
<path d="M1309.3,600.9 A12.0,18.0 -20.0 1,0 1286.7,609.1 A12.0,18.0 -20.0 1,0 1309.3,600.9 Z" stroke-width="1.8" fill="none" vector-effect="non-scaling-stroke"/>
<path d="M1563.2,587.7 A30.0,45.0 -20.0 1,0 1506.8,608.3 A30.0,45.0 -20.0 1,0 1563.2,587.7 Z" stroke-width="2.0" fill="#fff" vector-effect="non-scaling-stroke"/>
<path d="M1544.3,593.9 A12.0,18.0 -20.0 1,0 1521.7,602.1 A12.0,18.0 -20.0 1,0 1544.3,593.9 Z" stroke-width="1.6" fill="none" vector-effect="non-scaling-stroke"/>
<path d="M1160,688 L1280,620" stroke-width="1.2" fill="none" vector-effect="non-scaling-stroke"/>
<path d="M1395,680 L1520,610" stroke-width="1.2" fill="none" vector-effect="non-scaling-stroke"/>
<path d="M1560,590 L1640,545" stroke-width="1.2" fill="none" vector-effect="non-scaling-stroke"/>
<path d="M1785,385 L1932,315" stroke-width="1.4" fill="none" vector-effect="non-scaling-stroke" stroke-dasharray="12,6"/>
<path d="M345,1172 L395,1143" stroke-width="1.3" fill="none" vector-effect="non-scaling-stroke"/>
<path d="M420,1130 L540,1060" stroke-width="1.3" fill="none" vector-effect="non-scaling-stroke" stroke-dasharray="12,6"/>
<path d="M345,1290 L560,1165" stroke-width="1.3" fill="none" vector-effect="non-scaling-stroke" stroke-dasharray="12,6"/>
<path d="M620,985 L780,895" stroke-width="1.3" fill="none" vector-effect="non-scaling-stroke" stroke-dasharray="12,6"/>
<path d="M680,1080 L800,1010" stroke-width="1.3" fill="none" vector-effect="non-scaling-stroke" stroke-dasharray="12,6"/>
<path d="M640,1030 L760,960" stroke-width="1.3" fill="none" vector-effect="non-scaling-stroke" stroke-dasharray="12,6"/>
<path d="M1000,840 L1260,690" stroke-width="1.3" fill="none" vector-effect="non-scaling-stroke" stroke-dasharray="12,6"/>
<path d="M1240,700 L1500,550" stroke-width="1.3" fill="none" vector-effect="non-scaling-stroke" stroke-dasharray="12,6"/>
<path d="M1330,585 L1500,490" stroke-width="1.3" fill="none" vector-effect="non-scaling-stroke" stroke-dasharray="12,6"/>
<path d="M1035,729 L1158,665 C1175,663 1180,685 1170,697 L1055,763" stroke-width="1.8" fill="#fff" vector-effect="non-scaling-stroke"/>
<path d="M992,773 L994,739 L1022,723 L1052,733 L1060,769 L1036,787 L1010,791 Z" stroke-width="1.8" fill="#fff" vector-effect="non-scaling-stroke"/>
<path d="M994,753 L1032,741 L1056,751" stroke-width="1.2" fill="none" vector-effect="non-scaling-stroke"/>
<path d="M1032,741 L1034,787" stroke-width="1.0" fill="none" vector-effect="non-scaling-stroke"/>
<path d="M1273,724 L1396,660 C1413,658 1418,680 1408,692 L1293,758" stroke-width="1.8" fill="#fff" vector-effect="non-scaling-stroke"/>
<path d="M1230,768 L1232,734 L1260,718 L1290,728 L1298,764 L1274,782 L1248,786 Z" stroke-width="1.8" fill="#fff" vector-effect="non-scaling-stroke"/>
<path d="M1232,748 L1270,736 L1294,746" stroke-width="1.2" fill="none" vector-effect="non-scaling-stroke"/>
<path d="M1270,736 L1272,782" stroke-width="1.0" fill="none" vector-effect="non-scaling-stroke"/>
</g>
<g transform="translate(1090,560) scale(0.165563)">
<path d="M197,65 L197,1880" stroke-width="1.5" fill="none" vector-effect="non-scaling-stroke" stroke-dasharray="40,7,9.5,7,9.5,7"/>
<path d="M197,1880 L480,1715" stroke-width="1.3" fill="none" vector-effect="non-scaling-stroke" stroke-dasharray="13,6"/>
<path d="M197,1560 L470,1410" stroke-width="1.3" fill="none" vector-effect="non-scaling-stroke" stroke-dasharray="13,6"/>
<path d="M1060,560 L1060,2270" stroke-width="1.5" fill="none" vector-effect="non-scaling-stroke" stroke-dasharray="40,7,9.5,7,9.5,7"/>
<path d="M865,720 L865,1290" stroke-width="1.4" fill="none" vector-effect="non-scaling-stroke" stroke-dasharray="13,6"/>
<path d="M962,780 L962,1323" stroke-width="1.4" fill="none" vector-effect="non-scaling-stroke" stroke-dasharray="13,6"/>
<path d="M0,340 L200,225" stroke-width="1.3" fill="none" vector-effect="non-scaling-stroke" stroke-dasharray="13,6"/>
<path d="M240,200 L460,75" stroke-width="1.3" fill="none" vector-effect="non-scaling-stroke" stroke-dasharray="13,6"/>
<path d="M0,410 L130,340" stroke-width="1.3" fill="none" vector-effect="non-scaling-stroke" stroke-dasharray="13,6"/>
<path d="M150,330 L370,205" stroke-width="1.6" fill="none" vector-effect="non-scaling-stroke"/>
<path d="M0,490 L200,380" stroke-width="1.3" fill="none" vector-effect="non-scaling-stroke" stroke-dasharray="13,6"/>
<path d="M225,365 L440,240" stroke-width="1.6" fill="none" vector-effect="non-scaling-stroke"/>
<path d="M500,135 L700,25" stroke-width="1.3" fill="none" vector-effect="non-scaling-stroke" stroke-dasharray="13,6"/>
<path d="M570,170 L700,95" stroke-width="1.3" fill="none" vector-effect="non-scaling-stroke" stroke-dasharray="13,6"/>
<path d="M700,385 L1000,225" stroke-width="1.3" fill="none" vector-effect="non-scaling-stroke" stroke-dasharray="13,6"/>
<path d="M760,585 L1060,420" stroke-width="1.3" fill="none" vector-effect="non-scaling-stroke" stroke-dasharray="13,6"/>
</g>
<g transform="translate(0,0) scale(1.000000)">
<path d="M1376.2,745 L1376.2,1005.6" stroke-width="1.3" fill="none" vector-effect="non-scaling-stroke"/>
<path d="M1376.2,1005.6 L1376.2,1266" stroke-width="1.3" fill="none" vector-effect="non-scaling-stroke" stroke-dasharray="40,7,9.5,7,9.5,7" stroke-dashoffset="40"/>
<path d="M1391.4,772 L1391.4,1278" stroke-width="1.3" fill="none" vector-effect="non-scaling-stroke" stroke-dasharray="36,6.5,10,6.5,10,6.5"/>
</g>
<g transform="translate(1250,1250) scale(0.250000)">
<path d="M482,70 L605,128 M478,100 L596,158" stroke-width="1.8" fill="none" vector-effect="non-scaling-stroke"/>
<path d="M494.5,80.5 A11.0,16.0 -30.0 1,0 475.5,91.5 A11.0,16.0 -30.0 1,0 494.5,80.5 Z" stroke-width="1.8" fill="#fff" vector-effect="non-scaling-stroke"/>
<path d="M520,92 L580,118 L575,128 L515,102 Z" stroke-width="1.3" fill="none" vector-effect="non-scaling-stroke"/>
<path d="M634.9,148.9 A12.0,31.0 -25.0 1,0 613.1,159.1 A12.0,31.0 -25.0 1,0 634.9,148.9 Z" stroke-width="3.0" fill="#fff" vector-effect="non-scaling-stroke"/>
<path d="M623.9,152.9 A12.0,31.0 -25.0 1,0 602.1,163.1 A12.0,31.0 -25.0 1,0 623.9,152.9 Z" stroke-width="3.0" fill="#fff" vector-effect="non-scaling-stroke"/>
<path d="M628,135 L735,193 M617,186 L722,240" stroke-width="1.8" fill="none" vector-effect="non-scaling-stroke"/>
<path d="M742.7,208.5 A17.0,24.0 -30.0 1,0 713.3,225.5 A17.0,24.0 -30.0 1,0 742.7,208.5 Z" stroke-width="1.8" fill="#fff" vector-effect="non-scaling-stroke"/>
<path d="M733.0,217.0 A5.0,5.0 0.0 1,0 723.0,217.0 A5.0,5.0 0.0 1,0 733.0,217.0 Z" stroke-width="1.5" fill="none" vector-effect="non-scaling-stroke"/>
<path d="M742,228 L800,258" stroke-width="1.3" fill="none" vector-effect="non-scaling-stroke"/>
<path d="M505,0 L505,62" stroke-width="1.2" fill="none" vector-effect="non-scaling-stroke"/>
<path d="M565,0 L565,110" stroke-width="1.3" fill="none" vector-effect="non-scaling-stroke" stroke-dasharray="8,4.5"/>
<path d="M1339.8,544.9 A24.0,36.0 -25.0 1,0 1296.2,565.1 A24.0,36.0 -25.0 1,0 1339.8,544.9 Z" stroke-width="2.0" fill="#fff" vector-effect="non-scaling-stroke"/>
<path d="M1322.0,555.0 A4.0,4.0 0.0 1,0 1314.0,555.0 A4.0,4.0 0.0 1,0 1322.0,555.0 Z" stroke-width="2.0" fill="none" vector-effect="non-scaling-stroke"/>
<path d="M1476,654 L1487,644 L1502,647 L1507,662 L1497,674 L1482,672 Z" stroke-width="2.4" fill="#fff" vector-effect="non-scaling-stroke"/>
<path d="M1495.5,656.9 A5.0,7.0 -25.0 1,0 1486.5,661.1 A5.0,7.0 -25.0 1,0 1495.5,656.9 Z" stroke-width="1.6" fill="none" vector-effect="non-scaling-stroke"/>
<path d="M1682,766 L1712,779 M1676,781 L1706,794" stroke-width="1.8" fill="none" vector-effect="non-scaling-stroke"/>
<path d="M1684.5,771.9 A5.0,8.0 -25.0 1,0 1675.5,776.1 A5.0,8.0 -25.0 1,0 1684.5,771.9 Z" stroke-width="1.6" fill="#fff" vector-effect="non-scaling-stroke"/>
<path d="M1724.2,785.2 A9.0,12.0 -25.0 1,0 1707.8,792.8 A9.0,12.0 -25.0 1,0 1724.2,785.2 Z" stroke-width="2.4" fill="#fff" vector-effect="non-scaling-stroke"/>
<path d="M1120,440 L1290,540" stroke-width="1.3" fill="none" vector-effect="non-scaling-stroke" stroke-dasharray="8,4.5"/>
<path d="M1345,572 L1480,650" stroke-width="1.3" fill="none" vector-effect="non-scaling-stroke" stroke-dasharray="8,4.5"/>
<path d="M1502,668 L1680,770" stroke-width="1.3" fill="none" vector-effect="non-scaling-stroke" stroke-dasharray="8,4.5"/>
</g>
<g transform="translate(800,800) scale(0.250000)">
<path d="M158,652 L198,668 M150,672 L190,690" stroke-width="1.8" fill="none" vector-effect="non-scaling-stroke"/>
<path d="M163.2,658.2 A9.0,12.0 -25.0 1,0 146.8,665.8 A9.0,12.0 -25.0 1,0 163.2,658.2 Z" stroke-width="1.8" fill="#fff" vector-effect="non-scaling-stroke"/>
<path d="M201.4,676.5 A6.0,11.0 -25.0 1,0 190.6,681.5 A6.0,11.0 -25.0 1,0 201.4,676.5 Z" stroke-width="2.2" fill="none" vector-effect="non-scaling-stroke"/>
<path d="M205,685 L290,730" stroke-width="1.2" fill="none" vector-effect="non-scaling-stroke"/>
<path d="M309.4,731.6 A10.0,18.0 -20.0 1,0 290.6,738.4 A10.0,18.0 -20.0 1,0 309.4,731.6 Z" stroke-width="3.5" fill="none" vector-effect="non-scaling-stroke"/>
<path d="M312,740 L400,785" stroke-width="1.2" fill="none" vector-effect="non-scaling-stroke"/>
<path d="M442.6,791.8 A24.0,32.0 -20.0 1,0 397.4,808.2 A24.0,32.0 -20.0 1,0 442.6,791.8 Z" stroke-width="2.0" fill="#fff" vector-effect="non-scaling-stroke"/>
<path d="M424.0,800.0 A4.0,4.0 0.0 1,0 416.0,800.0 A4.0,4.0 0.0 1,0 424.0,800.0 Z" stroke-width="2.0" fill="none" vector-effect="non-scaling-stroke"/>
<path d="M455,825 L590,900" stroke-width="1.3" fill="none" vector-effect="non-scaling-stroke" stroke-dasharray="12,6"/>
</g>
<g transform="translate(1340,720) scale(0.144928)">
<path d="M222,83 L232,70 L268,70 L278,83 L278,110 L268,120 L232,120 L222,110 Z" stroke-width="1.8" fill="#fff" vector-effect="non-scaling-stroke"/>
<path d="M222,95 L278,95" stroke-width="1.0" fill="none" vector-effect="non-scaling-stroke"/>
<path d="M234,120 L234,180 C240,190 260,190 266,180 L266,120" stroke-width="1.8" fill="none" vector-effect="non-scaling-stroke"/>
<path d="M286.0,265.0 A36.0,16.0 0.0 1,0 214.0,265.0 A36.0,16.0 0.0 1,0 286.0,265.0 Z" stroke-width="2.4" fill="#fff" vector-effect="non-scaling-stroke"/>
<path d="M266.0,265.0 A16.0,7.0 0.0 1,0 234.0,265.0 A16.0,7.0 0.0 1,0 266.0,265.0 Z" stroke-width="1.6" fill="none" vector-effect="non-scaling-stroke"/>
<path d="M327,143 L337,130 L373,130 L383,143 L383,170 L373,180 L337,180 L327,170 Z" stroke-width="1.8" fill="#fff" vector-effect="non-scaling-stroke"/>
<path d="M327,155 L383,155" stroke-width="1.0" fill="none" vector-effect="non-scaling-stroke"/>
<path d="M339,180 L339,240 C345,250 365,250 371,240 L371,180" stroke-width="1.8" fill="none" vector-effect="non-scaling-stroke"/>
<path d="M391.0,325.0 A36.0,16.0 0.0 1,0 319.0,325.0 A36.0,16.0 0.0 1,0 391.0,325.0 Z" stroke-width="2.4" fill="#fff" vector-effect="non-scaling-stroke"/>
<path d="M371.0,325.0 A16.0,7.0 0.0 1,0 339.0,325.0 A16.0,7.0 0.0 1,0 371.0,325.0 Z" stroke-width="1.6" fill="none" vector-effect="non-scaling-stroke"/>
</g>
<g transform="translate(1240,440) scale(0.082816)">
<path d="M1128,650 L1188,598 L1282,608 L1327,682 L1302,772 L1230,802 L1140,762 Z" stroke-width="2.2" fill="#fff" vector-effect="non-scaling-stroke"/>
<path d="M1263.9,682.2 A52.0,62.0 -20.0 1,0 1166.1,717.8 A52.0,62.0 -20.0 1,0 1263.9,682.2 Z" stroke-width="1.8" fill="none" vector-effect="non-scaling-stroke"/>
<path d="M1218.8,708.2 A20.0,30.0 -20.0 1,0 1181.2,721.8 A20.0,30.0 -20.0 1,0 1218.8,708.2 Z" stroke-width="1.6" fill="none" vector-effect="non-scaling-stroke"/>
<path d="M840,755 L1110,600" stroke-width="1.3" fill="none" vector-effect="non-scaling-stroke" stroke-dasharray="12,6"/>
<path d="M1190,550 L1370,450" stroke-width="1.3" fill="none" vector-effect="non-scaling-stroke"/>
<path d="M780,945 L1050,795" stroke-width="1.3" fill="none" vector-effect="non-scaling-stroke" stroke-dasharray="12,6"/>
<path d="M500,945 L760,800" stroke-width="1.6" fill="none" vector-effect="non-scaling-stroke"/>
</g>
<g transform="translate(1210,490) scale(0.051760)">
<path d="M1380,700 C1480,740 1525,800 1512,880 L1440,985 C1420,1060 1400,1120 1330,1180 L1080,1340" stroke-width="2.0" fill="#fff" vector-effect="non-scaling-stroke"/>
<path d="M510,440 L900,250 C960,230 1020,240 1060,270 C1200,360 1330,480 1380,650 L1330,700" stroke-width="2.0" fill="#fff" vector-effect="non-scaling-stroke"/>
<path d="M250,780 L510,450 C560,400 680,380 800,430 L1320,720 C1420,770 1440,840 1400,920 L1100,1300 C1050,1350 950,1370 850,1320 L330,1010 C250,960 220,870 250,780 Z" stroke-width="2.2" fill="#fff" vector-effect="non-scaling-stroke"/>
<path d="M951.6,822.1 A140.0,210.0 -20.0 1,0 688.4,917.9 A140.0,210.0 -20.0 1,0 951.6,822.1 Z" stroke-width="2.0" fill="none" vector-effect="non-scaling-stroke"/>
<path d="M399.0,872.9 A50.0,78.0 -20.0 1,0 305.0,907.1 A50.0,78.0 -20.0 1,0 399.0,872.9 Z" stroke-width="2.0" fill="none" vector-effect="non-scaling-stroke"/>
<path d="M1339.0,837.9 A50.0,78.0 -20.0 1,0 1245.0,872.1 A50.0,78.0 -20.0 1,0 1339.0,837.9 Z" stroke-width="2.0" fill="none" vector-effect="non-scaling-stroke"/>
<path d="M840,430 L935,390 L1372,640 L1360,690" stroke-width="2.0" fill="none" vector-effect="non-scaling-stroke"/>
<path d="M860,465 L1330,700" stroke-width="2.0" fill="none" vector-effect="non-scaling-stroke"/>
<path d="M1400,920 C1450,990 1420,1070 1380,1130" stroke-width="1.6" fill="none" vector-effect="non-scaling-stroke"/>
<path d="M1230,1150 C1300,1120 1390,1050 1430,980" stroke-width="1.4" fill="none" vector-effect="non-scaling-stroke"/>
<path d="M1240,380 L1450,250" stroke-width="1.8" fill="none" vector-effect="non-scaling-stroke"/>
<path d="M1380,560 L1790,320" stroke-width="1.8" fill="none" vector-effect="non-scaling-stroke"/>
<path d="M1450,660 L1800,640" stroke-width="1.2" fill="none" vector-effect="non-scaling-stroke"/>
<path d="M1900.0,650.0 A50.0,45.0 0.0 1,0 1800.0,650.0 A50.0,45.0 0.0 1,0 1900.0,650.0 Z" stroke-width="2.5" fill="#1a1a22" vector-effect="non-scaling-stroke"/>
<path d="M0,1100 L250,950" stroke-width="1.6" fill="none" vector-effect="non-scaling-stroke"/>
</g>
<g transform="translate(1150,800) scale(0.103520)">
<path d="M470,85 C520,50 580,80 590,150 C600,210 570,245 530,240 L500,235" stroke-width="2.0" fill="#fff" vector-effect="non-scaling-stroke"/>
<path d="M452,100 C500,70 560,100 570,160 C578,215 545,250 505,245" stroke-width="1.4" fill="none" vector-effect="non-scaling-stroke"/>
<path d="M380,170 L470,110 M425,268 L515,222" stroke-width="1.8" fill="none" vector-effect="non-scaling-stroke"/>
<path d="M435.7,202.0 A38.0,52.0 -20.0 1,0 364.3,228.0 A38.0,52.0 -20.0 1,0 435.7,202.0 Z" stroke-width="1.8" fill="#fff" vector-effect="non-scaling-stroke"/>
<path d="M407.4,211.6 A10.0,12.0 -20.0 1,0 388.6,218.4 A10.0,12.0 -20.0 1,0 407.4,211.6 Z" stroke-width="1.5" fill="none" vector-effect="non-scaling-stroke"/>
<path d="M890,1025 L1140,885 L1165,892 L1285,1010" stroke-width="2.0" fill="none" vector-effect="non-scaling-stroke"/>
<path d="M912,1030 L1135,910" stroke-width="1.4" fill="none" vector-effect="non-scaling-stroke"/>
<path d="M890,1025 L905,1045 L950,1210 L975,1222 L1125,1140" stroke-width="2.0" fill="none" vector-effect="non-scaling-stroke"/>
<path d="M930,1050 L985,1105 L1020,1100 L1085,1075 L1110,1092" stroke-width="2.0" fill="none" vector-effect="non-scaling-stroke"/>
<path d="M1110,1092 L1130,1160 L1198,1290 L1208,1450 L1230,1482 L1422,1372 L1427,1022 L1315,1082 L1300,1040" stroke-width="2.0" fill="none" vector-effect="non-scaling-stroke"/>
<path d="M1140,1095 L1300,1010 L1310,1075" stroke-width="1.6" fill="none" vector-effect="non-scaling-stroke"/>
<path d="M1280,975 L1305,955 L1335,1035" stroke-width="1.6" fill="none" vector-effect="non-scaling-stroke"/>
<path d="M1260.7,1157.5 A22.0,30.0 -20.0 1,0 1219.3,1172.5 A22.0,30.0 -20.0 1,0 1260.7,1157.5 Z" stroke-width="3.0" fill="none" vector-effect="non-scaling-stroke"/>
<path d="M1196.9,1388.8 A18.0,24.0 -20.0 1,0 1163.1,1401.2 A18.0,24.0 -20.0 1,0 1196.9,1388.8 Z" stroke-width="2.0" fill="none" vector-effect="non-scaling-stroke"/>
<path d="M1263.8,1413.2 A20.0,26.0 -20.0 1,0 1226.2,1426.8 A20.0,26.0 -20.0 1,0 1263.8,1413.2 Z" stroke-width="2.5" fill="none" vector-effect="non-scaling-stroke"/>
<path d="M205,350 C150,345 120,420 105,560 C90,700 70,850 40,1100 L10,1220" stroke-width="2.0" fill="none" vector-effect="non-scaling-stroke"/>
<path d="M180,345 C130,360 110,440 95,560 C80,700 60,850 25,1100" stroke-width="1.3" fill="none" vector-effect="non-scaling-stroke"/>
</g>
<g transform="translate(1330,385) scale(0.093171)">
<path d="M1050,420 L1560,700 L1545,760 L1540,860 L1560,900 L1500,1000 L1460,1050 L1380,1000 L1400,960 L1350,940 L1320,965 L1290,920 L1205,880 L1210,820 L1150,780 L1130,790 L1000,470 Z" stroke-width="1.8" fill="#fff" vector-effect="non-scaling-stroke"/>
<path d="M1000,470 L1540,760" stroke-width="1.6" fill="none" vector-effect="non-scaling-stroke"/>
<path d="M1145,785 L1520,995" stroke-width="1.4" fill="none" vector-effect="non-scaling-stroke"/>
<path d="M1560,700 C1540,650 1570,560 1620,540 C1660,520 1690,495 1700,470 L1740,470" stroke-width="1.8" fill="none" vector-effect="non-scaling-stroke"/>
<path d="M1545,760 C1520,800 1525,860 1545,890" stroke-width="1.5" fill="none" vector-effect="non-scaling-stroke"/>
<path d="M1712,600 L1772,588 L1812,700 L1850,820 L1890,822 L1900,1030 L1800,995 L1700,960 L1600,900 L1560,895" stroke-width="1.8" fill="#fff" vector-effect="non-scaling-stroke"/>
<path d="M1730,620 L1790,830 L1800,995" stroke-width="1.3" fill="none" vector-effect="non-scaling-stroke"/>
<path d="M1570,880 L1720,790 L1760,720" stroke-width="1.6" fill="none" vector-effect="non-scaling-stroke"/>
<path d="M1760.0,930.0 A40.0,42.0 0.0 1,0 1680.0,930.0 A40.0,42.0 0.0 1,0 1760.0,930.0 Z" stroke-width="2.6" fill="none" vector-effect="non-scaling-stroke"/>
<path d="M380,100 L400,95 L832,340 L832,420 L820,430 L330,185 Z" stroke-width="1.8" fill="#fff" vector-effect="non-scaling-stroke"/>
<path d="M330,185 L325,300 L560,440 M400,120 L440,140 L830,380 M440,140 L440,200 L820,420" stroke-width="1.5" fill="none" vector-effect="non-scaling-stroke"/>
<path d="M470.0,305.0 A40.0,40.0 0.0 1,0 390.0,305.0 A40.0,40.0 0.0 1,0 470.0,305.0 Z" stroke-width="3.0" fill="none" vector-effect="non-scaling-stroke"/>
<path d="M640.0,400.0 A40.0,40.0 0.0 1,0 560.0,400.0 A40.0,40.0 0.0 1,0 640.0,400.0 Z" stroke-width="3.0" fill="none" vector-effect="non-scaling-stroke"/>
<path d="M805.0,500.0 A40.0,40.0 0.0 1,0 725.0,500.0 A40.0,40.0 0.0 1,0 805.0,500.0 Z" stroke-width="3.0" fill="none" vector-effect="non-scaling-stroke"/>
<path d="M442.0,305.0 A12.0,12.0 0.0 1,0 418.0,305.0 A12.0,12.0 0.0 1,0 442.0,305.0 Z M612.0,400.0 A12.0,12.0 0.0 1,0 588.0,400.0 A12.0,12.0 0.0 1,0 612.0,400.0 Z M777.0,500.0 A12.0,12.0 0.0 1,0 753.0,500.0 A12.0,12.0 0.0 1,0 777.0,500.0 Z" stroke-width="1.5" fill="none" vector-effect="non-scaling-stroke"/>
<path d="M50,335 L95,310 L190,355 L205,330 L270,300 L300,320 L530,450 L600,500 L600,640 L530,600 L490,580 L450,590 L410,580 L400,540 L370,520 L340,470 L310,610 L290,630 L250,645 L190,620 L175,580 L150,510 L120,500 L110,545 L70,540 L50,430 Z" stroke-width="1.8" fill="#fff" vector-effect="non-scaling-stroke"/>
<path d="M60,420 L590,640" stroke-width="1.6" fill="none" vector-effect="non-scaling-stroke"/>
<path d="M62,440 L420,600" stroke-width="1.3" fill="none" vector-effect="non-scaling-stroke"/>
<path d="M190,420 L215,450 L235,465 L265,430 L300,425 L340,470" stroke-width="1.6" fill="none" vector-effect="non-scaling-stroke"/>
<path d="M300,640 L370,790" stroke-width="1.6" fill="none" vector-effect="non-scaling-stroke"/>
<path d="M840,360 C870,330 950,320 1000,340 C1040,360 1060,400 1050,420 L1220,660 L1230,690 L1180,700" stroke-width="1.8" fill="#fff" vector-effect="non-scaling-stroke"/>
<path d="M1000,440 L1230,660" stroke-width="1.4" fill="none" vector-effect="non-scaling-stroke"/>
<path d="M950,470 C1050,460 1130,560 1140,660 C1145,720 1120,760 1080,770" stroke-width="2.0" fill="#fff" vector-effect="non-scaling-stroke"/>
<path d="M1010,480 C1110,480 1180,580 1170,680" stroke-width="1.4" fill="none" vector-effect="non-scaling-stroke"/>
<path d="M400,765 L850,520 L960,740 L560,965 Z" stroke-width="1.8" fill="#fff" vector-effect="non-scaling-stroke"/>
<path d="M850,480 C930,480 1000,560 1000,660 C1000,720 980,750 960,760" stroke-width="2.0" fill="none" vector-effect="non-scaling-stroke"/>
<path d="M870,485 C950,490 1020,570 1020,670" stroke-width="1.4" fill="none" vector-effect="non-scaling-stroke"/>
<path d="M890,490 C970,500 1040,580 1038,680" stroke-width="1.4" fill="none" vector-effect="non-scaling-stroke"/>
<path d="M910,495 C990,510 1055,590 1052,690" stroke-width="1.4" fill="none" vector-effect="non-scaling-stroke"/>
<path d="M400,770 C470,760 560,820 580,900 C590,940 575,960 560,965" stroke-width="2.0" fill="#fff" vector-effect="non-scaling-stroke"/>
<path d="M425,760 C500,760 585,830 600,905" stroke-width="1.4" fill="none" vector-effect="non-scaling-stroke"/>
<path d="M450,750 C530,755 605,820 618,895" stroke-width="1.4" fill="none" vector-effect="non-scaling-stroke"/>
<path d="M470,745 C550,750 620,815 632,885" stroke-width="1.4" fill="none" vector-effect="non-scaling-stroke"/>
<path d="M255,895 L410,808 L490,960 L320,1035 Z" stroke-width="1.8" fill="#fff" vector-effect="non-scaling-stroke"/>
<path d="M333.5,934.7 A48.0,70.0 -25.0 1,0 246.5,975.3 A48.0,70.0 -25.0 1,0 333.5,934.7 Z" stroke-width="1.8" fill="#fff" vector-effect="non-scaling-stroke"/>
<path d="M298.0,958.0 A6.0,6.0 0.0 1,0 286.0,958.0 A6.0,6.0 0.0 1,0 298.0,958.0 Z" stroke-width="2.0" fill="none" vector-effect="non-scaling-stroke"/>
<path d="M470,990 C490,1040 515,1060 520,1075 L540,1100 C610,1200 710,1300 860,1410" stroke-width="1.8" fill="none" vector-effect="non-scaling-stroke"/>
<path d="M200,0 C185,100 190,230 210,305" stroke-width="1.6" fill="none" vector-effect="non-scaling-stroke"/>
</g>
<g transform="translate(960,600) scale(0.077640)">
<path d="M760,500 C820,440 900,420 1000,370 C1050,340 1100,345 1150,370 L1460,560 C1540,600 1570,660 1550,720 L1500,790 L1300,960 L1140,1080 C1060,1100 980,1080 900,1010 C800,930 720,820 700,700 C690,600 720,540 760,500 Z" stroke-width="2.2" fill="#fff" vector-effect="non-scaling-stroke"/>
<path d="M1100,420 L1130,400 L1450,585" stroke-width="2.0" fill="none" vector-effect="non-scaling-stroke"/>
<path d="M1105,425 C1200,520 1260,640 1300,760 L1320,950" stroke-width="2.6" fill="none" vector-effect="non-scaling-stroke"/>
<path d="M1450,585 L1480,770 L1330,945" stroke-width="2.0" fill="none" vector-effect="non-scaling-stroke"/>
<path d="M1230,790 L1460,760" stroke-width="1.4" fill="none" vector-effect="non-scaling-stroke"/>
<path d="M1455.1,683.6 A48.0,70.0 -20.0 1,0 1364.9,716.4 A48.0,70.0 -20.0 1,0 1455.1,683.6 Z" stroke-width="2.6" fill="none" vector-effect="non-scaling-stroke"/>
<path d="M1414.4,696.6 A10.0,14.0 -20.0 1,0 1395.6,703.4 A10.0,14.0 -20.0 1,0 1414.4,696.6 Z" stroke-width="1.5" fill="none" vector-effect="non-scaling-stroke"/>
<path d="M1189.8,659.1 A215.0,290.0 -28.0 1,0 810.2,860.9 A215.0,290.0 -28.0 1,0 1189.8,659.1 Z" stroke-width="1.6" fill="none" vector-effect="non-scaling-stroke"/>
<path d="M1132.8,695.8 A190.0,255.0 -28.0 1,0 797.2,874.2 A190.0,255.0 -28.0 1,0 1132.8,695.8 Z" stroke-width="4.5" fill="#fff" vector-effect="non-scaling-stroke"/>
<path d="M1088.6,734.3 A140.0,195.0 -28.0 1,0 841.4,865.7 A140.0,195.0 -28.0 1,0 1088.6,734.3 Z" stroke-width="1.8" fill="none" vector-effect="non-scaling-stroke"/>
<path d="M1010.1,765.1 A85.0,115.0 -28.0 1,0 859.9,844.9 A85.0,115.0 -28.0 1,0 1010.1,765.1 Z" stroke-width="5.0" fill="none" vector-effect="non-scaling-stroke"/>
<path d="M953.6,794.2 A55.0,75.0 -28.0 1,0 856.4,845.8 A55.0,75.0 -28.0 1,0 953.6,794.2 Z" stroke-width="1.5" fill="none" vector-effect="non-scaling-stroke"/>
<path d="M700,700 C700,640 730,600 760,570" stroke-width="4.0" fill="none" vector-effect="non-scaling-stroke"/>
<path d="M860,790 L960,760" stroke-width="1.4" fill="none" vector-effect="non-scaling-stroke"/>
<path d="M1280,430 L1730,175" stroke-width="1.8" fill="none" vector-effect="non-scaling-stroke"/>
<path d="M1540,620 L1700,535" stroke-width="1.8" fill="none" vector-effect="non-scaling-stroke"/>
<path d="M1670.0,770.0 A30.0,30.0 0.0 1,0 1610.0,770.0 A30.0,30.0 0.0 1,0 1670.0,770.0 Z" stroke-width="3.5" fill="#1a1a22" vector-effect="non-scaling-stroke"/>
<path d="M1545,770 L1610,770" stroke-width="1.2" fill="none" vector-effect="non-scaling-stroke"/>
<path d="M1155.0,1310.0 A25.0,28.0 0.0 1,0 1105.0,1310.0 A25.0,28.0 0.0 1,0 1155.0,1310.0 Z" stroke-width="2.5" fill="#fff" vector-effect="non-scaling-stroke"/>
<path d="M1050,1100 L1110,1270" stroke-width="1.2" fill="none" vector-effect="non-scaling-stroke"/>
</g>
<g transform="translate(1320,330) scale(0.108696)">
<path d="M258,760 C238,560 300,300 470,135 C485,120 500,160 530,150 L545,100 C640,62 800,55 900,78 C1100,140 1300,330 1420,520 C1500,650 1560,780 1582,912" stroke-width="1.8" fill="none" vector-effect="non-scaling-stroke"/>
<path d="M560,92 C700,72 850,82 950,112 C1150,195 1320,372 1400,505 C1480,635 1540,765 1566,905" stroke-width="1.2" fill="none" vector-effect="non-scaling-stroke"/>
<path d="M1245,390 L1268,378 L1280,410 L1258,420 Z M1360,540 L1385,530 L1395,560 L1370,568 Z" stroke-width="1.3" fill="none" vector-effect="non-scaling-stroke"/>
<path d="M830,1712 C900,1790 950,1840 1000,1870 C1050,1900 1150,1932 1260,1925 C1300,1920 1340,1905 1360,1885 C1370,1870 1385,1890 1395,1880 C1450,1850 1500,1810 1560,1765" stroke-width="1.8" fill="none" vector-effect="non-scaling-stroke"/>
<path d="M1395,1330 L1600,1432 C1650,1452 1668,1492 1658,1562 C1643,1652 1603,1722 1560,1770" stroke-width="1.8" fill="none" vector-effect="non-scaling-stroke"/>
<path d="M1400,1352 L1590,1452 C1630,1472 1642,1502 1637,1562 C1627,1642 1592,1702 1552,1752" stroke-width="1.2" fill="none" vector-effect="non-scaling-stroke"/>
</g>
<ellipse cx="983.90" cy="1046.00" rx="76.25" ry="40.55" transform="rotate(121.25 983.90 1046.00)" stroke-width="2.6" fill="#fff"/>
<line x1="974.6" y1="1127.2" x2="945.3" y2="1111.7" stroke-width="2.6"/>
<line x1="1051.8" y1="995.8" x2="1022.5" y2="980.3" stroke-width="2.6"/>
<path d="M963.2,1120.2 L960.3,1116.9 L955.2,1117.6 L952.9,1113.1 L947.9,1113.8 L945.6,1109.2 L941.3,1108.6" stroke-width="3.5"/>
<line x1="969.1" y1="1123.3" x2="965.6" y2="1121.4" stroke-width="3.0"/>
<path d="M959.3,1115.2 L956.4,1111.9 L951.3,1112.6 L949.0,1108.1 L944.0,1108.8 L941.7,1104.2 L937.3,1103.6" stroke-width="3.5"/>
<line x1="965.2" y1="1118.3" x2="961.7" y2="1116.4" stroke-width="3.0"/>
<path d="M956.5,1108.9 L953.5,1105.7 L948.4,1106.4 L946.2,1101.8 L941.1,1102.5 L938.8,1097.9 L934.5,1097.3" stroke-width="3.5"/>
<line x1="962.3" y1="1112.0" x2="958.8" y2="1110.2" stroke-width="3.0"/>
<path d="M954.7,1101.5 L951.8,1098.2 L946.7,1099.0 L944.4,1094.4 L939.4,1095.1 L937.1,1090.5 L932.7,1089.9" stroke-width="3.5"/>
<line x1="960.6" y1="1104.6" x2="957.1" y2="1102.7" stroke-width="3.0"/>
<path d="M954.2,1093.1 L951.2,1089.9 L946.1,1090.6 L943.9,1086.0 L938.8,1086.7 L936.5,1082.1 L932.2,1081.5" stroke-width="3.5"/>
<line x1="960.0" y1="1096.2" x2="956.5" y2="1094.4" stroke-width="3.0"/>
<path d="M954.8,1084.0 L951.8,1080.7 L946.7,1081.4 L944.5,1076.8 L939.4,1077.5 L937.1,1072.9 L932.8,1072.3" stroke-width="3.5"/>
<line x1="960.6" y1="1087.1" x2="957.1" y2="1085.2" stroke-width="3.0"/>
<path d="M956.5,1074.2 L953.6,1071.0 L948.5,1071.7 L946.2,1067.1 L941.2,1067.8 L938.9,1063.2 L934.6,1062.6" stroke-width="3.5"/>
<line x1="962.4" y1="1077.3" x2="958.9" y2="1075.5" stroke-width="3.0"/>
<path d="M959.4,1064.1 L956.5,1060.8 L951.4,1061.6 L949.1,1057.0 L944.1,1057.7 L941.8,1053.1 L937.4,1052.5" stroke-width="3.5"/>
<line x1="965.3" y1="1067.2" x2="961.8" y2="1065.4" stroke-width="3.0"/>
<path d="M963.4,1053.9 L960.4,1050.6 L955.3,1051.3 L953.1,1046.7 L948.0,1047.5 L945.7,1042.9 L941.4,1042.2" stroke-width="3.5"/>
<line x1="969.2" y1="1057.0" x2="965.7" y2="1055.1" stroke-width="3.0"/>
<path d="M968.3,1043.7 L965.3,1040.5 L960.2,1041.2 L958.0,1036.6 L952.9,1037.3 L950.7,1032.7 L946.3,1032.1" stroke-width="3.5"/>
<line x1="974.1" y1="1046.8" x2="970.6" y2="1045.0" stroke-width="3.0"/>
<path d="M974.0,1033.9 L971.1,1030.6 L966.0,1031.4 L963.8,1026.8 L958.7,1027.5 L956.4,1022.9 L952.1,1022.3" stroke-width="3.5"/>
<line x1="979.9" y1="1037.0" x2="976.4" y2="1035.1" stroke-width="3.0"/>
<path d="M980.6,1024.6 L977.6,1021.4 L972.5,1022.1 L970.3,1017.5 L965.2,1018.2 L962.9,1013.6 L958.6,1013.0" stroke-width="3.5"/>
<line x1="986.4" y1="1027.7" x2="982.9" y2="1025.9" stroke-width="3.0"/>
<path d="M987.6,1016.1 L984.7,1012.8 L979.6,1013.5 L977.4,1009.0 L972.3,1009.7 L970.0,1005.1 L965.7,1004.5" stroke-width="3.5"/>
<line x1="993.5" y1="1019.2" x2="990.0" y2="1017.3" stroke-width="3.0"/>
<path d="M995.2,1008.5 L992.2,1005.2 L987.1,1005.9 L984.9,1001.4 L979.8,1002.1 L977.6,997.5 L973.2,996.9" stroke-width="3.5"/>
<line x1="1001.0" y1="1011.6" x2="997.5" y2="1009.7" stroke-width="3.0"/>
<path d="M1002.9,1002.0 L1000.0,998.7 L994.9,999.5 L992.7,994.9 L987.6,995.6 L985.3,991.0 L981.0,990.4" stroke-width="3.5"/>
<line x1="1008.8" y1="1005.1" x2="1005.3" y2="1003.2" stroke-width="3.0"/>
<path d="M1010.8,996.8 L1007.8,993.5 L1002.8,994.2 L1000.5,989.6 L995.4,990.3 L993.2,985.8 L988.8,985.1" stroke-width="3.5"/>
<line x1="1016.7" y1="999.9" x2="1013.1" y2="998.0" stroke-width="3.0"/>
<path d="M1018.6,992.9 L1015.6,989.6 L1010.5,990.4 L1008.3,985.8 L1003.2,986.5 L1001.0,981.9 L996.6,981.3" stroke-width="3.5"/>
<line x1="1024.4" y1="996.0" x2="1020.9" y2="994.1" stroke-width="3.0"/>
<path d="M1026.1,990.5 L1023.1,987.2 L1018.1,987.9 L1015.8,983.4 L1010.7,984.1 L1008.5,979.5 L1004.1,978.9" stroke-width="3.5"/>
<line x1="1031.9" y1="993.6" x2="1028.4" y2="991.7" stroke-width="3.0"/>
<path d="M1033.2,989.6 L1030.2,986.3 L1025.1,987.0 L1022.9,982.5 L1017.8,983.2 L1015.5,978.6 L1011.2,978.0" stroke-width="3.5"/>
<line x1="1039.0" y1="992.7" x2="1035.5" y2="990.8" stroke-width="3.0"/>
<path d="M1039.6,990.2 L1036.7,987.0 L1031.6,987.7 L1029.4,983.1 L1024.3,983.8 L1022.0,979.2 L1017.7,978.6" stroke-width="3.5"/>
<line x1="1045.5" y1="993.3" x2="1042.0" y2="991.5" stroke-width="3.0"/>
<path d="M970.2,1124.9 L968.4,1123.8 L966.6,1122.5 L965.1,1121.1 L963.6,1119.4 L962.2,1117.7 L961.0,1115.7 L959.9,1113.6 L959.0,1111.4 L958.2,1109.0 L957.5,1106.4 L957.0,1103.8 L956.6,1101.0 L956.3,1098.1 L956.2,1095.1 L956.2,1092.0 L956.4,1088.8 L956.8,1085.5 L957.2,1082.2 L957.8,1078.8 L958.6,1075.3 L959.5,1071.8 L960.5,1068.3 L961.6,1064.7 L962.9,1061.1 L964.3,1057.5 L965.9,1053.9 L967.5,1050.4 L969.3,1046.8 L971.1,1043.3 L973.1,1039.9 L975.2,1036.4 L977.3,1033.1 L979.6,1029.8 L981.9,1026.6 L984.3,1023.5 L986.8,1020.5 L989.3,1017.6 L991.9,1014.8 L994.5,1012.1 L997.2,1009.6 L999.9,1007.2 L1002.6,1004.9 L1005.4,1002.8 L1008.1,1000.8 L1010.9,999.0 L1013.6,997.4 L1016.4,995.9 L1019.1,994.6 L1021.8,993.5 L1024.4,992.6 L1027.0,991.8 L1029.6,991.3 L1032.1,990.9 L1034.5,990.7 L1036.9,990.7 L1039.2,990.9 L1041.4,991.2 L1043.5,991.8 L1045.5,992.5 L1047.4,993.5" stroke-width="1.0"/>
<path d="M968.7,1124.1 L966.9,1123.0 L965.2,1121.7 L963.6,1120.3 L962.1,1118.7 L960.8,1116.9 L959.6,1114.9 L958.5,1112.8 L957.5,1110.6 L956.7,1108.2 L956.0,1105.7 L955.5,1103.0 L955.1,1100.2 L954.9,1097.3 L954.7,1094.3 L954.8,1091.2 L955.0,1088.0 L955.3,1084.7 L955.8,1081.4 L956.4,1078.0 L957.1,1074.5 L958.0,1071.0 L959.0,1067.5 L960.2,1063.9 L961.5,1060.3 L962.9,1056.7 L964.4,1053.2 L966.0,1049.6 L967.8,1046.1 L969.7,1042.5 L971.6,1039.1 L973.7,1035.7 L975.9,1032.3 L978.1,1029.0 L980.5,1025.8 L982.9,1022.7 L985.3,1019.7 L987.9,1016.8 L990.4,1014.0 L993.1,1011.3 L995.7,1008.8 L998.5,1006.4 L1001.2,1004.1 L1003.9,1002.0 L1006.7,1000.1 L1009.4,998.3 L1012.2,996.6 L1014.9,995.2 L1017.6,993.9 L1020.3,992.8 L1023.0,991.8 L1025.6,991.1 L1028.1,990.5 L1030.6,990.1 L1033.1,989.9 L1035.4,989.9 L1037.7,990.1 L1039.9,990.5 L1042.0,991.0 L1044.1,991.8 L1046.0,992.7" stroke-width="1.0"/>
<ellipse cx="1013.20" cy="1061.50" rx="76.25" ry="40.55" transform="rotate(121.25 1013.20 1061.50)" stroke-width="1.2" fill="#fff"/>
<ellipse cx="1013.20" cy="1061.50" rx="75.45" ry="39.66" transform="rotate(121.27 1013.20 1061.50)" stroke-width="3.8" fill="none" stroke-dasharray="3.0,2.6" stroke-linecap="butt"/>
<ellipse cx="1013.20" cy="1061.50" rx="77.65" ry="42.10" transform="rotate(121.22 1013.20 1061.50)" stroke-width="1.7" fill="none"/>
<ellipse cx="1013.20" cy="1061.50" rx="73.66" ry="38.86" transform="rotate(120.86 1013.20 1061.50)" stroke-width="1.0" fill="none"/>
<ellipse cx="1015.80" cy="1064.30" rx="60.32" ry="35.02" transform="rotate(120.29 1015.80 1064.30)" stroke-width="1.3" fill="none"/>
<ellipse cx="1011.50" cy="1061.20" rx="32.99" ry="21.12" transform="rotate(117.79 1011.50 1061.20)" stroke-width="2.6" fill="none"/>
<ellipse cx="1012.00" cy="1061.70" rx="28.37" ry="17.82" transform="rotate(117.32 1012.00 1061.70)" stroke-width="1.4" fill="none"/>
<ellipse cx="1012.50" cy="1062.20" rx="25.76" ry="15.95" transform="rotate(117.59 1012.50 1062.20)" stroke-width="1.0" fill="none"/>
<line x1="998.0" y1="1083.1" x2="1005.2" y2="1074.2" stroke-width="1.6"/>
<line x1="994.0" y1="1072.2" x2="1003.0" y2="1068.6" stroke-width="1.6"/>
<line x1="997.1" y1="1057.5" x2="1004.5" y2="1060.9" stroke-width="1.6"/>
<line x1="1006.1" y1="1044.5" x2="1009.0" y2="1054.1" stroke-width="1.6"/>
<line x1="1017.5" y1="1038.4" x2="1014.8" y2="1050.8" stroke-width="1.6"/>
<line x1="1027.0" y1="1041.3" x2="1019.8" y2="1052.2" stroke-width="1.6"/>
<line x1="1031.0" y1="1052.2" x2="1022.0" y2="1057.8" stroke-width="1.6"/>
<line x1="1027.9" y1="1066.9" x2="1020.5" y2="1065.5" stroke-width="1.6"/>
<line x1="1018.9" y1="1079.9" x2="1016.0" y2="1072.3" stroke-width="1.6"/>
<line x1="1007.5" y1="1086.0" x2="1010.2" y2="1075.6" stroke-width="1.6"/>
<ellipse cx="1012.50" cy="1063.20" rx="13.34" ry="8.27" transform="rotate(116.49 1012.50 1063.20)" stroke-width="4.0" fill="#fff"/>
<ellipse cx="1013.00" cy="1063.70" rx="7.30" ry="4.47" transform="rotate(117.39 1013.00 1063.70)" stroke-width="1.3" fill="none"/>
<ellipse cx="1013.00" cy="1063.70" rx="3.45" ry="2.02" transform="rotate(117.50 1013.00 1063.70)" stroke-width="1.2" fill="none"/>
<line x1="1013.6" y1="1062.4" x2="1048.3" y2="1083.9" stroke-width="1.2"/><line x1="1048.3" y1="1083.9" x2="1060" y2="1089.3" stroke-width="1.2" stroke-dasharray="12,6"/>
<ellipse cx="1485.15" cy="1336.00" rx="76.25" ry="40.55" transform="rotate(121.25 1485.15 1336.00)" stroke-width="2.6" fill="#fff"/>
<line x1="1475.8" y1="1417.2" x2="1446.5" y2="1401.7" stroke-width="2.6"/>
<line x1="1553.1" y1="1285.8" x2="1523.8" y2="1270.3" stroke-width="2.6"/>
<path d="M1464.5,1410.2 L1461.5,1406.9 L1456.5,1407.6 L1454.2,1403.1 L1449.1,1403.8 L1446.9,1399.2 L1442.5,1398.6" stroke-width="3.5"/>
<line x1="1470.3" y1="1413.3" x2="1466.8" y2="1411.4" stroke-width="3.0"/>
<path d="M1460.6,1405.2 L1457.6,1401.9 L1452.5,1402.6 L1450.3,1398.1 L1445.2,1398.8 L1443.0,1394.2 L1438.6,1393.6" stroke-width="3.5"/>
<line x1="1466.4" y1="1408.3" x2="1462.9" y2="1406.4" stroke-width="3.0"/>
<path d="M1457.7,1398.9 L1454.7,1395.7 L1449.7,1396.4 L1447.4,1391.8 L1442.4,1392.5 L1440.1,1387.9 L1435.7,1387.3" stroke-width="3.5"/>
<line x1="1463.6" y1="1402.0" x2="1460.1" y2="1400.2" stroke-width="3.0"/>
<path d="M1456.0,1391.5 L1453.0,1388.2 L1447.9,1389.0 L1445.7,1384.4 L1440.6,1385.1 L1438.4,1380.5 L1434.0,1379.9" stroke-width="3.5"/>
<line x1="1461.8" y1="1394.6" x2="1458.3" y2="1392.7" stroke-width="3.0"/>
<path d="M1455.4,1383.1 L1452.4,1379.9 L1447.4,1380.6 L1445.1,1376.0 L1440.1,1376.7 L1437.8,1372.1 L1433.4,1371.5" stroke-width="3.5"/>
<line x1="1461.3" y1="1386.2" x2="1457.7" y2="1384.4" stroke-width="3.0"/>
<path d="M1456.0,1374.0 L1453.0,1370.7 L1448.0,1371.4 L1445.7,1366.8 L1440.7,1367.5 L1438.4,1362.9 L1434.0,1362.3" stroke-width="3.5"/>
<line x1="1461.9" y1="1377.1" x2="1458.4" y2="1375.2" stroke-width="3.0"/>
<path d="M1457.8,1364.2 L1454.8,1361.0 L1449.7,1361.7 L1447.5,1357.1 L1442.4,1357.8 L1440.2,1353.2 L1435.8,1352.6" stroke-width="3.5"/>
<line x1="1463.6" y1="1367.3" x2="1460.1" y2="1365.5" stroke-width="3.0"/>
<path d="M1460.7,1354.1 L1457.7,1350.8 L1452.6,1351.6 L1450.4,1347.0 L1445.3,1347.7 L1443.1,1343.1 L1438.7,1342.5" stroke-width="3.5"/>
<line x1="1466.5" y1="1357.2" x2="1463.0" y2="1355.4" stroke-width="3.0"/>
<path d="M1464.6,1343.9 L1461.6,1340.6 L1456.6,1341.3 L1454.3,1336.7 L1449.3,1337.5 L1447.0,1332.9 L1442.6,1332.2" stroke-width="3.5"/>
<line x1="1470.5" y1="1347.0" x2="1467.0" y2="1345.1" stroke-width="3.0"/>
<path d="M1469.5,1333.7 L1466.6,1330.5 L1461.5,1331.2 L1459.2,1326.6 L1454.2,1327.3 L1451.9,1322.7 L1447.5,1322.1" stroke-width="3.5"/>
<line x1="1475.4" y1="1336.8" x2="1471.9" y2="1335.0" stroke-width="3.0"/>
<path d="M1475.3,1323.9 L1472.3,1320.6 L1467.3,1321.4 L1465.0,1316.8 L1459.9,1317.5 L1457.7,1312.9 L1453.3,1312.3" stroke-width="3.5"/>
<line x1="1481.2" y1="1327.0" x2="1477.6" y2="1325.1" stroke-width="3.0"/>
<path d="M1481.8,1314.6 L1478.8,1311.4 L1473.8,1312.1 L1471.5,1307.5 L1466.5,1308.2 L1464.2,1303.6 L1459.8,1303.0" stroke-width="3.5"/>
<line x1="1487.7" y1="1317.7" x2="1484.1" y2="1315.9" stroke-width="3.0"/>
<path d="M1488.9,1306.1 L1485.9,1302.8 L1480.9,1303.5 L1478.6,1299.0 L1473.5,1299.7 L1471.3,1295.1 L1466.9,1294.5" stroke-width="3.5"/>
<line x1="1494.8" y1="1309.2" x2="1491.2" y2="1307.3" stroke-width="3.0"/>
<path d="M1496.4,1298.5 L1493.5,1295.2 L1488.4,1295.9 L1486.1,1291.4 L1481.1,1292.1 L1478.8,1287.5 L1474.4,1286.9" stroke-width="3.5"/>
<line x1="1502.3" y1="1301.6" x2="1498.8" y2="1299.7" stroke-width="3.0"/>
<path d="M1504.2,1292.0 L1501.2,1288.7 L1496.2,1289.5 L1493.9,1284.9 L1488.8,1285.6 L1486.6,1281.0 L1482.2,1280.4" stroke-width="3.5"/>
<line x1="1510.0" y1="1295.1" x2="1506.5" y2="1293.2" stroke-width="3.0"/>
<path d="M1512.1,1286.8 L1509.1,1283.5 L1504.0,1284.2 L1501.8,1279.6 L1496.7,1280.3 L1494.4,1275.8 L1490.1,1275.1" stroke-width="3.5"/>
<line x1="1517.9" y1="1289.9" x2="1514.4" y2="1288.0" stroke-width="3.0"/>
<path d="M1519.8,1282.9 L1516.9,1279.6 L1511.8,1280.4 L1509.5,1275.8 L1504.5,1276.5 L1502.2,1271.9 L1497.8,1271.3" stroke-width="3.5"/>
<line x1="1525.7" y1="1286.0" x2="1522.2" y2="1284.1" stroke-width="3.0"/>
<path d="M1527.3,1280.5 L1524.4,1277.2 L1519.3,1277.9 L1517.0,1273.4 L1512.0,1274.1 L1509.7,1269.5 L1505.4,1268.9" stroke-width="3.5"/>
<line x1="1533.2" y1="1283.6" x2="1529.7" y2="1281.7" stroke-width="3.0"/>
<path d="M1534.4,1279.6 L1531.4,1276.3 L1526.4,1277.0 L1524.1,1272.5 L1519.1,1273.2 L1516.8,1268.6 L1512.4,1268.0" stroke-width="3.5"/>
<line x1="1540.3" y1="1282.7" x2="1536.7" y2="1280.8" stroke-width="3.0"/>
<path d="M1540.9,1280.2 L1537.9,1277.0 L1532.9,1277.7 L1530.6,1273.1 L1525.5,1273.8 L1523.3,1269.2 L1518.9,1268.6" stroke-width="3.5"/>
<line x1="1546.8" y1="1283.3" x2="1543.2" y2="1281.5" stroke-width="3.0"/>
<path d="M1471.4,1414.9 L1469.6,1413.8 L1467.9,1412.5 L1466.3,1411.1 L1464.8,1409.4 L1463.5,1407.7 L1462.3,1405.7 L1461.2,1403.6 L1460.2,1401.4 L1459.4,1399.0 L1458.7,1396.4 L1458.2,1393.8 L1457.8,1391.0 L1457.6,1388.1 L1457.5,1385.1 L1457.5,1382.0 L1457.7,1378.8 L1458.0,1375.5 L1458.5,1372.2 L1459.1,1368.8 L1459.8,1365.3 L1460.7,1361.8 L1461.7,1358.3 L1462.9,1354.7 L1464.2,1351.1 L1465.6,1347.5 L1467.1,1343.9 L1468.8,1340.4 L1470.5,1336.8 L1472.4,1333.3 L1474.4,1329.9 L1476.4,1326.4 L1478.6,1323.1 L1480.8,1319.8 L1483.2,1316.6 L1485.6,1313.5 L1488.1,1310.5 L1490.6,1307.6 L1493.2,1304.8 L1495.8,1302.1 L1498.5,1299.6 L1501.2,1297.2 L1503.9,1294.9 L1506.6,1292.8 L1509.4,1290.8 L1512.1,1289.0 L1514.9,1287.4 L1517.6,1285.9 L1520.3,1284.6 L1523.0,1283.5 L1525.7,1282.6 L1528.3,1281.8 L1530.8,1281.3 L1533.3,1280.9 L1535.8,1280.7 L1538.1,1280.7 L1540.4,1280.9 L1542.6,1281.2 L1544.8,1281.8 L1546.8,1282.5 L1548.7,1283.5" stroke-width="1.0"/>
<path d="M1470.0,1414.1 L1468.1,1413.0 L1466.4,1411.7 L1464.8,1410.3 L1463.4,1408.7 L1462.0,1406.9 L1460.8,1404.9 L1459.7,1402.8 L1458.8,1400.6 L1458.0,1398.2 L1457.3,1395.7 L1456.7,1393.0 L1456.4,1390.2 L1456.1,1387.3 L1456.0,1384.3 L1456.0,1381.2 L1456.2,1378.0 L1456.5,1374.7 L1457.0,1371.4 L1457.6,1368.0 L1458.4,1364.5 L1459.2,1361.0 L1460.3,1357.5 L1461.4,1353.9 L1462.7,1350.3 L1464.1,1346.7 L1465.6,1343.2 L1467.3,1339.6 L1469.1,1336.1 L1470.9,1332.5 L1472.9,1329.1 L1475.0,1325.7 L1477.1,1322.3 L1479.4,1319.0 L1481.7,1315.8 L1484.1,1312.7 L1486.6,1309.7 L1489.1,1306.8 L1491.7,1304.0 L1494.3,1301.3 L1497.0,1298.8 L1499.7,1296.4 L1502.4,1294.1 L1505.2,1292.0 L1507.9,1290.1 L1510.7,1288.3 L1513.4,1286.6 L1516.2,1285.2 L1518.9,1283.9 L1521.6,1282.8 L1524.2,1281.8 L1526.8,1281.1 L1529.4,1280.5 L1531.9,1280.1 L1534.3,1279.9 L1536.7,1279.9 L1539.0,1280.1 L1541.2,1280.5 L1543.3,1281.0 L1545.3,1281.8 L1547.2,1282.7" stroke-width="1.0"/>
<ellipse cx="1514.45" cy="1351.50" rx="76.25" ry="40.55" transform="rotate(121.25 1514.45 1351.50)" stroke-width="1.2" fill="#fff"/>
<ellipse cx="1514.45" cy="1351.50" rx="75.45" ry="39.66" transform="rotate(121.27 1514.45 1351.50)" stroke-width="3.8" fill="none" stroke-dasharray="3.0,2.6" stroke-linecap="butt"/>
<ellipse cx="1514.45" cy="1351.50" rx="77.65" ry="42.10" transform="rotate(121.22 1514.45 1351.50)" stroke-width="1.7" fill="none"/>
<ellipse cx="1514.45" cy="1351.50" rx="73.66" ry="38.86" transform="rotate(120.86 1514.45 1351.50)" stroke-width="1.0" fill="none"/>
<ellipse cx="1517.05" cy="1354.30" rx="60.32" ry="35.02" transform="rotate(120.29 1517.05 1354.30)" stroke-width="1.3" fill="none"/>
<ellipse cx="1512.75" cy="1351.20" rx="32.99" ry="21.12" transform="rotate(117.79 1512.75 1351.20)" stroke-width="2.6" fill="none"/>
<ellipse cx="1513.25" cy="1351.70" rx="28.37" ry="17.82" transform="rotate(117.32 1513.25 1351.70)" stroke-width="1.4" fill="none"/>
<ellipse cx="1513.75" cy="1352.20" rx="25.76" ry="15.95" transform="rotate(117.59 1513.75 1352.20)" stroke-width="1.0" fill="none"/>
<line x1="1499.2" y1="1373.1" x2="1506.4" y2="1364.2" stroke-width="1.6"/>
<line x1="1495.3" y1="1362.2" x2="1504.3" y2="1358.6" stroke-width="1.6"/>
<line x1="1498.3" y1="1347.5" x2="1505.7" y2="1350.9" stroke-width="1.6"/>
<line x1="1507.3" y1="1334.5" x2="1510.2" y2="1344.1" stroke-width="1.6"/>
<line x1="1518.7" y1="1328.4" x2="1516.1" y2="1340.8" stroke-width="1.6"/>
<line x1="1528.3" y1="1331.3" x2="1521.1" y2="1342.2" stroke-width="1.6"/>
<line x1="1532.2" y1="1342.2" x2="1523.2" y2="1347.8" stroke-width="1.6"/>
<line x1="1529.2" y1="1356.9" x2="1521.8" y2="1355.5" stroke-width="1.6"/>
<line x1="1520.2" y1="1369.9" x2="1517.3" y2="1362.3" stroke-width="1.6"/>
<line x1="1508.8" y1="1376.0" x2="1511.4" y2="1365.6" stroke-width="1.6"/>
<ellipse cx="1513.75" cy="1353.20" rx="13.34" ry="8.27" transform="rotate(116.49 1513.75 1353.20)" stroke-width="4.0" fill="#fff"/>
<ellipse cx="1514.25" cy="1353.70" rx="7.30" ry="4.47" transform="rotate(117.39 1514.25 1353.70)" stroke-width="1.3" fill="none"/>
<ellipse cx="1514.25" cy="1353.70" rx="3.45" ry="2.02" transform="rotate(117.50 1514.25 1353.70)" stroke-width="1.2" fill="none"/>
<line x1="1514.9" y1="1352.4" x2="1549.5" y2="1373.9" stroke-width="1.2"/>
</g>
<text x="425" y="1191.75" class="ttl" textLength="418.75" lengthAdjust="spacingAndGlyphs">Housing Assembly</text>
<text x="555" y="1243.75" class="ttl2" textLength="158" lengthAdjust="spacingAndGlyphs">C7-A002</text>
<line x1="355.5" y1="1256.5" x2="908.0" y2="1256.5" stroke="#3a3a48" stroke-width="1.6"/>
<line x1="355.5" y1="1275.6" x2="908.0" y2="1275.6" stroke="#3a3a48" stroke-width="1.6"/>
<line x1="355.5" y1="1297.4" x2="908.0" y2="1297.4" stroke="#3a3a48" stroke-width="1.6"/>
<line x1="355.5" y1="1318.6" x2="908.0" y2="1318.6" stroke="#3a3a48" stroke-width="1.6"/>
<line x1="355.5" y1="1337.3" x2="908.0" y2="1337.3" stroke="#3a3a48" stroke-width="1.6"/>
<line x1="355.5" y1="1356.0" x2="908.0" y2="1356.0" stroke="#3a3a48" stroke-width="1.6"/>
<line x1="355.5" y1="1374.7" x2="908.0" y2="1374.7" stroke="#3a3a48" stroke-width="1.6"/>
<line x1="355.5" y1="1392.8" x2="908.0" y2="1392.8" stroke="#3a3a48" stroke-width="1.6"/>
<line x1="355.5" y1="1415.6" x2="908.0" y2="1415.6" stroke="#3a3a48" stroke-width="1.6"/>
<line x1="355.5" y1="1433.7" x2="908.0" y2="1433.7" stroke="#3a3a48" stroke-width="1.6"/>
<line x1="355.5" y1="1452.1" x2="908.0" y2="1452.1" stroke="#3a3a48" stroke-width="1.6"/>
<line x1="355.5" y1="1470.8" x2="908.0" y2="1470.8" stroke="#3a3a48" stroke-width="1.6"/>
<line x1="355.5" y1="1489.5" x2="908.0" y2="1489.5" stroke="#3a3a48" stroke-width="1.6"/>
<line x1="355.5" y1="1507.5" x2="908.0" y2="1507.5" stroke="#3a3a48" stroke-width="1.6"/>
<line x1="355.5" y1="1526.4" x2="908.0" y2="1526.4" stroke="#3a3a48" stroke-width="1.6"/>
<line x1="355.5" y1="1548.1" x2="908.0" y2="1548.1" stroke="#3a3a48" stroke-width="1.6"/>
<line x1="355.5" y1="1570.1" x2="908.0" y2="1570.1" stroke="#3a3a48" stroke-width="1.6"/>
<line x1="355.5" y1="1592.0" x2="908.0" y2="1592.0" stroke="#3a3a48" stroke-width="1.6"/>
<line x1="355.5" y1="1613.0" x2="908.0" y2="1613.0" stroke="#3a3a48" stroke-width="1.6"/>
<line x1="355.5" y1="1631.9" x2="908.0" y2="1631.9" stroke="#3a3a48" stroke-width="1.6"/>
<line x1="355.5" y1="1650.7" x2="908.0" y2="1650.7" stroke="#3a3a48" stroke-width="1.6"/>
<line x1="355.5" y1="1669.4" x2="908.0" y2="1669.4" stroke="#3a3a48" stroke-width="1.6"/>
<line x1="355.5" y1="1690.9" x2="908.0" y2="1690.9" stroke="#3a3a48" stroke-width="1.6"/>
<line x1="355.5" y1="1712.6" x2="908.0" y2="1712.6" stroke="#3a3a48" stroke-width="1.6"/>
<line x1="355.5" y1="1731.4" x2="908.0" y2="1731.4" stroke="#3a3a48" stroke-width="1.6"/>
<line x1="355.5" y1="1749.9" x2="908.0" y2="1749.9" stroke="#3a3a48" stroke-width="1.6"/>
<line x1="355.5" y1="1256.5" x2="355.5" y2="1749.9" stroke="#3a3a48" stroke-width="1.6"/>
<line x1="438.5" y1="1256.5" x2="438.5" y2="1749.9" stroke="#3a3a48" stroke-width="1.6"/>
<line x1="525.4" y1="1256.5" x2="525.4" y2="1749.9" stroke="#3a3a48" stroke-width="1.6"/>
<line x1="825.4" y1="1256.5" x2="825.4" y2="1749.9" stroke="#3a3a48" stroke-width="1.6"/>
<line x1="908.0" y1="1256.5" x2="908.0" y2="1749.9" stroke="#3a3a48" stroke-width="1.6"/>
<text x="397.7" y="1273.5" class="tb" text-anchor="middle" textLength="40.6" lengthAdjust="spacingAndGlyphs">ITEM</text>
<text x="482.4" y="1273.5" class="tb" text-anchor="middle" textLength="42" lengthAdjust="spacingAndGlyphs">PART</text>
<text x="677.7" y="1273.3" class="tb" text-anchor="middle" textLength="114.7" lengthAdjust="spacingAndGlyphs">DESCRIPTION</text>
<text x="866.9" y="1273.3" class="tb" text-anchor="middle" textLength="39" lengthAdjust="spacingAndGlyphs">QTY.</text>
<text x="397.7" y="1290.9" class="tb" text-anchor="middle">1</text>
<text x="448.2" y="1291.7" class="tb" textLength="67.9" lengthAdjust="spacingAndGlyphs">C7-A001</text>
<text x="397.7" y="1313" class="tb" text-anchor="middle">2</text>
<text x="448.2" y="1313.8" class="tb" textLength="67.9" lengthAdjust="spacingAndGlyphs">C7-A020</text>
<text x="397.7" y="1333" class="tb" text-anchor="middle">3</text>
<text x="448.2" y="1333.8" class="tb" textLength="67.9" lengthAdjust="spacingAndGlyphs">C7-P003</text>
<text x="397.7" y="1351" class="tb" text-anchor="middle">4</text>
<text x="448.2" y="1351.8" class="tb" textLength="67.9" lengthAdjust="spacingAndGlyphs">C7-P508</text>
<text x="397.7" y="1368.2" class="tb" text-anchor="middle">5</text>
<text x="448.2" y="1369.0" class="tb" textLength="69.8" lengthAdjust="spacingAndGlyphs">CP-A124</text>
<text x="397.7" y="1385.7" class="tb" text-anchor="middle">6</text>
<text x="448.2" y="1386.5" class="tb" textLength="69.8" lengthAdjust="spacingAndGlyphs">CP-P468</text>
<text x="397.7" y="1402.8" class="tb" text-anchor="middle">7</text>
<text x="448.2" y="1403.6" class="tb" textLength="48.8" lengthAdjust="spacingAndGlyphs">FL208</text>
<text x="397.7" y="1424" class="tb" text-anchor="middle">8</text>
<text x="448.2" y="1424.8" class="tb" textLength="62.1" lengthAdjust="spacingAndGlyphs">PI-A008</text>
<text x="397.7" y="1441.5" class="tb" text-anchor="middle">9</text>
<text x="448.2" y="1442.3" class="tb" textLength="62.1" lengthAdjust="spacingAndGlyphs">PI-P037</text>
<text x="397.7" y="1457.7" class="tb" text-anchor="middle">10</text>
<text x="448.2" y="1458.5" class="tb" textLength="62.1" lengthAdjust="spacingAndGlyphs">PI-P149</text>
<text x="397.7" y="1475.5" class="tb" text-anchor="middle">11</text>
<text x="448.2" y="1476.3" class="tb" textLength="62.1" lengthAdjust="spacingAndGlyphs">PI-P187</text>
<text x="397.7" y="1492.3" class="tb" text-anchor="middle">12</text>
<text x="448.2" y="1493.1" class="tb" textLength="62.1" lengthAdjust="spacingAndGlyphs">PI-P188</text>
<text x="397.7" y="1509.7" class="tb" text-anchor="middle">13</text>
<text x="448.2" y="1510.5" class="tb" textLength="62.1" lengthAdjust="spacingAndGlyphs">PI-P215</text>
<text x="397.7" y="1527.1" class="tb" text-anchor="middle">14</text>
<text x="448.2" y="1527.8999999999999" class="tb" textLength="62.1" lengthAdjust="spacingAndGlyphs">PI-P231</text>
<text x="397.7" y="1547.4" class="tb" text-anchor="middle">15</text>
<text x="448.2" y="1548.2" class="tb" textLength="62.1" lengthAdjust="spacingAndGlyphs">PI-P245</text>
<text x="397.7" y="1567.7" class="tb" text-anchor="middle">16</text>
<text x="448.2" y="1568.5" class="tb" textLength="62.1" lengthAdjust="spacingAndGlyphs">PI-P246</text>
<text x="397.7" y="1589.4" class="tb" text-anchor="middle">17</text>
<text x="448.2" y="1590.2" class="tb" textLength="62.1" lengthAdjust="spacingAndGlyphs">PI-P266</text>
<text x="397.7" y="1609.7" class="tb" text-anchor="middle">18</text>
<text x="448.2" y="1610.5" class="tb" textLength="62.1" lengthAdjust="spacingAndGlyphs">PI-P315</text>
<text x="397.7" y="1627.8" class="tb" text-anchor="middle">19</text>
<text x="448.2" y="1628.6" class="tb" textLength="62.1" lengthAdjust="spacingAndGlyphs">PI-P316</text>
<text x="397.7" y="1645.2" class="tb" text-anchor="middle">20</text>
<text x="448.2" y="1646.0" class="tb" textLength="62.1" lengthAdjust="spacingAndGlyphs">PI-P323</text>
<text x="397.7" y="1662.6" class="tb" text-anchor="middle">21</text>
<text x="448.2" y="1663.3999999999999" class="tb" textLength="62.1" lengthAdjust="spacingAndGlyphs">PI-P342</text>
<text x="397.7" y="1682.9" class="tb" text-anchor="middle">22</text>
<text x="448.2" y="1683.7" class="tb" textLength="62.1" lengthAdjust="spacingAndGlyphs">PI-P343</text>
<text x="397.7" y="1703.9" class="tb" text-anchor="middle">23</text>
<text x="448.2" y="1704.7" class="tb" textLength="62.1" lengthAdjust="spacingAndGlyphs">PI-P346</text>
<text x="397.7" y="1720.6" class="tb" text-anchor="middle">24</text>
<text x="448.2" y="1721.3999999999999" class="tb" textLength="62.1" lengthAdjust="spacingAndGlyphs">PI-P348</text>
<text x="678" y="1291" class="tb" text-anchor="middle" textLength="125.1" lengthAdjust="spacingAndGlyphs">Rotor Assembly</text>
<text x="678" y="1312.2" class="tb" text-anchor="middle" textLength="153.5" lengthAdjust="spacingAndGlyphs">Housing Weldment</text>
<text x="678" y="1332.4" class="tb" text-anchor="middle" textLength="60.1" lengthAdjust="spacingAndGlyphs">C7 Axle</text>
<text x="678" y="1350" class="tb" text-anchor="middle" textLength="110.9" lengthAdjust="spacingAndGlyphs">Front Doubler</text>
<text x="678" y="1367.5" class="tb" text-anchor="middle" textLength="128.1" lengthAdjust="spacingAndGlyphs">C7 Anvil Carded</text>
<text x="678" y="1383.8" class="tb" text-anchor="middle" textLength="207.7" lengthAdjust="spacingAndGlyphs">Rubber Buffer 30x15 M8F</text>
<text x="678" y="1401.4" class="tb" text-anchor="middle" textLength="164.1" lengthAdjust="spacingAndGlyphs">P 207 Hsg Pillow Blk</text>
<text x="678" y="1423.2" class="tb" text-anchor="middle" textLength="130" lengthAdjust="spacingAndGlyphs">C7 anvil bolt set</text>
<text x="678" y="1468.4" class="tb" text-anchor="middle" textLength="139.3" lengthAdjust="spacingAndGlyphs">M8x16 Screw Set</text>
<text x="678" y="1486.2" class="tb" text-anchor="middle" textLength="191.7" lengthAdjust="spacingAndGlyphs">M10x20 Screw Hex Bolt</text>
<text x="678" y="1503.7" class="tb" text-anchor="middle" textLength="191.7" lengthAdjust="spacingAndGlyphs">M10x25 Screw Hex Bolt</text>
<text x="678" y="1521.3" class="tb" text-anchor="middle" textLength="191.7" lengthAdjust="spacingAndGlyphs">M16x60 Screw Hex Bolt</text>
<text x="678" y="1537.4" class="tb" text-anchor="middle" textLength="118.1" lengthAdjust="spacingAndGlyphs">M16 Nyloc Nut</text>
<text x="678" y="1559" class="tb" text-anchor="middle" textLength="147.3" lengthAdjust="spacingAndGlyphs">M8 Washer Spring</text>
<text x="678" y="1579.4" class="tb" text-anchor="middle" textLength="157.3" lengthAdjust="spacingAndGlyphs">M10 Washer Spring</text>
<text x="678" y="1601" class="tb" text-anchor="middle" textLength="203.9" lengthAdjust="spacingAndGlyphs">M8x20 Screw Socket Cap</text>
<text x="678" y="1621.6" class="tb" text-anchor="middle" textLength="174.2" lengthAdjust="spacingAndGlyphs">M8x22x3 Washer Flat</text>
<text x="678" y="1639" class="tb" text-anchor="middle" textLength="189.7" lengthAdjust="spacingAndGlyphs">M8x32x1.5 Washer Flat</text>
<text x="678" y="1655.9" class="tb" text-anchor="middle" textLength="184.3" lengthAdjust="spacingAndGlyphs">M16x34x3 Washer Flat</text>
<text x="678" y="1672.7" class="tb" text-anchor="middle" textLength="236.1" lengthAdjust="spacingAndGlyphs">1610 28mm Taper Lock Bush</text>
<text x="678" y="1694.3" class="tb" text-anchor="middle" textLength="262.5" lengthAdjust="spacingAndGlyphs">SPA95-2 1610 Taper Lock Pulley</text>
<text x="678" y="1714" class="tb" text-anchor="middle" textLength="177.1" lengthAdjust="spacingAndGlyphs">3-8&quot;x5-8&quot; Grub Screw</text>
<text x="678" y="1731.2" class="tb" text-anchor="middle" textLength="161.1" lengthAdjust="spacingAndGlyphs">M8x1x8 Grub Screw</text>
<text x="513.5" y="1440.8" class="tb" textLength="290.5" lengthAdjust="spacingAndGlyphs">Wheel - 20 NYL BUSH PW100GN-20</text>
<text x="867.2" y="1291" class="tb" text-anchor="middle">1</text>
<text x="867.2" y="1312.2" class="tb" text-anchor="middle">1</text>
<text x="867.2" y="1332.4" class="tb" text-anchor="middle">2</text>
<text x="867.2" y="1350" class="tb" text-anchor="middle">1</text>
<text x="867.2" y="1367.5" class="tb" text-anchor="middle">1</text>
<text x="867.2" y="1383.8" class="tb" text-anchor="middle">2</text>
<text x="867.2" y="1401.4" class="tb" text-anchor="middle">2</text>
<text x="867.2" y="1423.2" class="tb" text-anchor="middle">1</text>
<text x="867.2" y="1439.7" class="tb" text-anchor="middle">2</text>
<text x="867.2" y="1456.9" class="tb" text-anchor="middle">2</text>
<text x="867.2" y="1473" class="tb" text-anchor="middle">4</text>
<text x="867.2" y="1491.2" class="tb" text-anchor="middle">4</text>
<text x="867.2" y="1509.2" class="tb" text-anchor="middle">2</text>
<text x="867.2" y="1526.3" class="tb" text-anchor="middle">2</text>
<text x="867.2" y="1546.5" class="tb" text-anchor="middle">4</text>
<text x="867.2" y="1567.3" class="tb" text-anchor="middle">8</text>
<text x="867.2" y="1588.9" class="tb" text-anchor="middle">2</text>
<text x="867.2" y="1609.5" class="tb" text-anchor="middle">2</text>
<text x="867.2" y="1626.9" class="tb" text-anchor="middle">2</text>
<text x="867.2" y="1644.4" class="tb" text-anchor="middle">2</text>
<text x="867.2" y="1662.2" class="tb" text-anchor="middle">1</text>
<text x="867.2" y="1681.8" class="tb" text-anchor="middle">1</text>
<text x="867.2" y="1703" class="tb" text-anchor="middle">2</text>
<text x="867.2" y="1720.1" class="tb" text-anchor="middle">4</text>
<circle cx="472.4" cy="665.8" r="30.8" fill="none" stroke="#1a1a22" stroke-width="1.1"/>
<g fill="none" stroke="#1d1d2b" stroke-width="3.4" stroke-linecap="butt" stroke-linejoin="miter"><path d="M2.3,8.6 C2.6,4.2 5.8,1.75 10,1.75 C14.6,1.75 17.6,4.8 17.6,9 C17.6,12 16.3,14.2 14.3,16.6 L2.4,30.25 L19.6,30.25" transform="translate(450.30,652.10)"/><path d="M2.6,7.2 C3.6,3.6 6.6,1.75 10,1.75 C14,1.75 16.4,4.4 16.4,7.9 C16.4,11.4 13.4,14.1 9,14.1 L7.6,14.1 M9,14.1 C14.6,14.1 18.3,17.6 18.3,22.4 C18.3,27.4 14.6,30.25 10,30.25 C6,30.25 3,28.2 1.6,25.2" transform="translate(474.50,652.10)"/></g>
<line x1="499.4" y1="680.7" x2="762.1" y2="825.6" stroke="#1a1a22" stroke-width="1.1"/>
<polygon points="763.2,826.2 738.7,816.6 742.0,810.6" fill="#1d1d2b"/>
<circle cx="540.0" cy="633.8" r="30.8" fill="none" stroke="#1a1a22" stroke-width="1.1"/>
<g fill="none" stroke="#1d1d2b" stroke-width="3.4" stroke-linecap="butt" stroke-linejoin="miter"><path d="M2.3,8.6 C2.6,4.2 5.8,1.75 10,1.75 C14.6,1.75 17.6,4.8 17.6,9 C17.6,12 16.3,14.2 14.3,16.6 L2.4,30.25 L19.6,30.25" transform="translate(517.90,620.10)"/><path d="M6.2,2.2 L11,1.75 L11,32" transform="translate(542.10,620.10)"/></g>
<line x1="566.9" y1="648.8" x2="811.8" y2="785.7" stroke="#1a1a22" stroke-width="1.1"/>
<polygon points="812.8,786.3 788.5,776.6 791.8,770.6" fill="#1d1d2b"/>
<circle cx="607.5" cy="600.3" r="30.8" fill="none" stroke="#1a1a22" stroke-width="1.1"/>
<g fill="none" stroke="#1d1d2b" stroke-width="3.4" stroke-linecap="butt" stroke-linejoin="miter"><path d="M2.3,8.6 C2.6,4.2 5.8,1.75 10,1.75 C14.6,1.75 17.6,4.8 17.6,9 C17.6,12 16.3,14.2 14.3,16.6 L2.4,30.25 L19.6,30.25" transform="translate(585.40,586.60)"/><path d="M2.3,8.6 C2.6,4.2 5.8,1.75 10,1.75 C14.6,1.75 17.6,4.8 17.6,9 C17.6,12 16.3,14.2 14.3,16.6 L2.4,30.25 L19.6,30.25" transform="translate(609.60,586.60)"/></g>
<line x1="633.5" y1="616.8" x2="871.8" y2="768.0" stroke="#1a1a22" stroke-width="1.1"/>
<polygon points="872.8,768.6 849.0,757.6 852.7,751.8" fill="#1d1d2b"/>
<circle cx="674.2" cy="567.4" r="30.8" fill="none" stroke="#1a1a22" stroke-width="1.1"/>
<g fill="none" stroke="#1d1d2b" stroke-width="3.4" stroke-linecap="butt" stroke-linejoin="miter"><path d="M6.2,2.2 L11,1.75 L11,32" transform="translate(652.10,553.70)"/><path d="M2.6,7.2 C3.6,3.6 6.6,1.75 10,1.75 C14,1.75 16.4,4.4 16.4,7.9 C16.4,11.4 13.4,14.1 9,14.1 L7.6,14.1 M9,14.1 C14.6,14.1 18.3,17.6 18.3,22.4 C18.3,27.4 14.6,30.25 10,30.25 C6,30.25 3,28.2 1.6,25.2" transform="translate(676.30,553.70)"/></g>
<line x1="701.1" y1="582.5" x2="921.5" y2="706.0" stroke="#1a1a22" stroke-width="1.1"/>
<polygon points="922.5,706.6 898.2,696.8 901.5,690.9" fill="#1d1d2b"/>
<circle cx="742.2" cy="534.5" r="30.8" fill="none" stroke="#1a1a22" stroke-width="1.1"/>
<g fill="none" stroke="#1d1d2b" stroke-width="3.4" stroke-linecap="butt" stroke-linejoin="miter"><path d="M2.3,8.6 C2.6,4.2 5.8,1.75 10,1.75 C14.6,1.75 17.6,4.8 17.6,9 C17.6,12 16.3,14.2 14.3,16.6 L2.4,30.25 L19.6,30.25" transform="translate(720.10,520.80)"/><path d="M10,1.75 C14.6,1.75 18.25,7.8 18.25,16 C18.25,24.2 14.6,30.25 10,30.25 C5.4,30.25 1.75,24.2 1.75,16 C1.75,7.8 5.4,1.75 10,1.75 Z" transform="translate(744.30,520.80)"/></g>
<line x1="767.6" y1="551.9" x2="964.0" y2="686.3" stroke="#1a1a22" stroke-width="1.1"/>
<polygon points="965.0,687.0 941.6,675.1 945.5,669.5" fill="#1d1d2b"/>
<circle cx="809.3" cy="501.2" r="30.8" fill="none" stroke="#1a1a22" stroke-width="1.1"/>
<g fill="none" stroke="#1d1d2b" stroke-width="3.4" stroke-linecap="butt" stroke-linejoin="miter"><path d="M2.3,8.6 C2.6,4.2 5.8,1.75 10,1.75 C14.6,1.75 17.6,4.8 17.6,9 C17.6,12 16.3,14.2 14.3,16.6 L2.4,30.25 L19.6,30.25" transform="translate(787.20,487.50)"/><path d="M15,32 L15,1.75 L1.75,23.6 L20,23.6" transform="translate(811.40,487.50)"/></g>
<line x1="833.0" y1="520.9" x2="1046.9" y2="698.1" stroke="#1a1a22" stroke-width="1.1"/>
<polygon points="1047.8,698.9 1025.6,684.9 1030.0,679.7" fill="#1d1d2b"/>
<circle cx="877.3" cy="468.0" r="30.8" fill="none" stroke="#1a1a22" stroke-width="1.1"/>
<g fill="none" stroke="#1d1d2b" stroke-width="3.4" stroke-linecap="butt" stroke-linejoin="miter"><path d="M1.4,1.75 L19.2,1.75 L7,32" transform="translate(867.30,454.30)"/></g>
<line x1="897.0" y1="491.6" x2="1019.8" y2="638.8" stroke="#1a1a22" stroke-width="1.1"/>
<circle cx="944.1" cy="435.1" r="30.8" fill="none" stroke="#1a1a22" stroke-width="1.1"/>
<g fill="none" stroke="#1d1d2b" stroke-width="3.4" stroke-linecap="butt" stroke-linejoin="miter"><path d="M6.2,2.2 L11,1.75 L11,32" transform="translate(922.00,421.40)"/><path d="M6.2,2.2 L11,1.75 L11,32" transform="translate(946.20,421.40)"/></g>
<line x1="960.0" y1="461.5" x2="1021.7" y2="564.0" stroke="#1a1a22" stroke-width="1.1"/>
<polygon points="1022.3,565.0 1006.0,544.5 1011.8,541.0" fill="#1d1d2b"/>
<circle cx="1011.8" cy="402.2" r="30.8" fill="none" stroke="#1a1a22" stroke-width="1.1"/>
<g fill="none" stroke="#1d1d2b" stroke-width="3.4" stroke-linecap="butt" stroke-linejoin="miter"><path d="M6.2,2.2 L11,1.75 L11,32" transform="translate(989.70,388.50)"/><path d="M14.6,1.4 L3.4,17.4 M10,13.2 C14.7,13.2 18.3,16.9 18.3,21.75 C18.3,26.6 14.7,30.25 10,30.25 C5.3,30.25 1.7,26.6 1.7,21.75 C1.7,16.9 5.3,13.2 10,13.2 Z" transform="translate(1013.90,388.50)"/></g>
<line x1="1021.6" y1="431.4" x2="1059.0" y2="542.5" stroke="#1a1a22" stroke-width="1.1"/>
<polygon points="1059.4,543.6 1047.9,520.1 1054.3,517.9" fill="#1d1d2b"/>
<circle cx="1079.5" cy="369.6" r="30.8" fill="none" stroke="#1a1a22" stroke-width="1.1"/>
<g fill="none" stroke="#1d1d2b" stroke-width="3.4" stroke-linecap="butt" stroke-linejoin="miter"><path d="M15,32 L15,1.75 L1.75,23.6 L20,23.6" transform="translate(1069.50,355.90)"/></g>
<line x1="1085.9" y1="399.7" x2="1107.4" y2="500.6" stroke="#1a1a22" stroke-width="1.1"/>
<polygon points="1107.6,501.8 1098.9,477.1 1105.6,475.6" fill="#1d1d2b"/>
<circle cx="1146.9" cy="336.3" r="30.8" fill="none" stroke="#1a1a22" stroke-width="1.1"/>
<g fill="none" stroke="#1d1d2b" stroke-width="3.4" stroke-linecap="butt" stroke-linejoin="miter"><path d="M1.4,1.75 L19.2,1.75 L7,32" transform="translate(1136.90,322.60)"/></g>
<line x1="1162.8" y1="362.7" x2="1274.2" y2="547.2" stroke="#1a1a22" stroke-width="1.1"/>
<polygon points="1274.8,548.2 1258.5,527.7 1264.3,524.2" fill="#1d1d2b"/>
<circle cx="1214.3" cy="303.4" r="30.8" fill="none" stroke="#1a1a22" stroke-width="1.1"/>
<g fill="none" stroke="#1d1d2b" stroke-width="3.4" stroke-linecap="butt" stroke-linejoin="miter"><path d="M2.3,8.6 C2.6,4.2 5.8,1.75 10,1.75 C14.6,1.75 17.6,4.8 17.6,9 C17.6,12 16.3,14.2 14.3,16.6 L2.4,30.25 L19.6,30.25" transform="translate(1192.20,289.70)"/><path d="M15,32 L15,1.75 L1.75,23.6 L20,23.6" transform="translate(1216.40,289.70)"/></g>
<line x1="1221.2" y1="333.4" x2="1261.2" y2="508.1" stroke="#1a1a22" stroke-width="1.1"/>
<polygon points="1261.5,509.3 1252.3,484.7 1259.0,483.2" fill="#1d1d2b"/>
<circle cx="1281.7" cy="270.2" r="30.8" fill="none" stroke="#1a1a22" stroke-width="1.1"/>
<g fill="none" stroke="#1d1d2b" stroke-width="3.4" stroke-linecap="butt" stroke-linejoin="miter"><path d="M6.2,2.2 L11,1.75 L11,32" transform="translate(1259.60,256.50)"/><path d="M15,32 L15,1.75 L1.75,23.6 L20,23.6" transform="translate(1283.80,256.50)"/></g>
<line x1="1283.4" y1="301.0" x2="1293.8" y2="495.0" stroke="#1a1a22" stroke-width="1.1"/>
<polygon points="1293.9,496.2 1289.1,470.4 1295.9,470.1" fill="#1d1d2b"/>
<circle cx="1349.0" cy="236.3" r="30.8" fill="none" stroke="#1a1a22" stroke-width="1.1"/>
<g fill="none" stroke="#1d1d2b" stroke-width="3.4" stroke-linecap="butt" stroke-linejoin="miter"><path d="M6.2,2.2 L11,1.75 L11,32" transform="translate(1338.00,222.60)"/></g>
<line x1="1354.5" y1="266.6" x2="1397.5" y2="505.9" stroke="#1a1a22" stroke-width="1.1"/>
<polygon points="1397.7,507.1 1389.8,482.1 1396.5,480.9" fill="#1d1d2b"/>
<circle cx="1574.5" cy="665.8" r="30.8" fill="none" stroke="#1a1a22" stroke-width="1.1"/>
<g fill="none" stroke="#1d1d2b" stroke-width="3.4" stroke-linecap="butt" stroke-linejoin="miter"><path d="M6.2,2.2 L11,1.75 L11,32" transform="translate(1552.40,652.10)"/><path d="M2.3,8.6 C2.6,4.2 5.8,1.75 10,1.75 C14.6,1.75 17.6,4.8 17.6,9 C17.6,12 16.3,14.2 14.3,16.6 L2.4,30.25 L19.6,30.25" transform="translate(1576.60,652.10)"/></g>
<line x1="1546.0" y1="677.6" x2="1395.8" y2="739.6" stroke="#1a1a22" stroke-width="1.1"/>
<polygon points="1394.7,740.1 1417.4,727.0 1420.0,733.3" fill="#1d1d2b"/>
<circle cx="1574.5" cy="768.3" r="30.8" fill="none" stroke="#1a1a22" stroke-width="1.1"/>
<g fill="none" stroke="#1d1d2b" stroke-width="3.4" stroke-linecap="butt" stroke-linejoin="miter"><path d="M6.2,2.2 L11,1.75 L11,32" transform="translate(1552.40,754.60)"/><path d="M14.6,1.4 L3.4,17.4 M10,13.2 C14.7,13.2 18.3,16.9 18.3,21.75 C18.3,26.6 14.7,30.25 10,30.25 C5.3,30.25 1.7,26.6 1.7,21.75 C1.7,16.9 5.3,13.2 10,13.2 Z" transform="translate(1576.60,754.60)"/></g>
<line x1="1543.7" y1="768.1" x2="1397.2" y2="767.1" stroke="#1a1a22" stroke-width="1.1"/>
<polygon points="1396.0,767.1 1422.0,763.9 1422.0,770.7" fill="#1d1d2b"/>
<circle cx="1055.5" cy="1188.8" r="30.8" fill="none" stroke="#1a1a22" stroke-width="1.1"/>
<g fill="none" stroke="#1d1d2b" stroke-width="3.4" stroke-linecap="butt" stroke-linejoin="miter"><path d="M14.6,1.4 L3.4,17.4 M10,13.2 C14.7,13.2 18.3,16.9 18.3,21.75 C18.3,26.6 14.7,30.25 10,30.25 C5.3,30.25 1.7,26.6 1.7,21.75 C1.7,16.9 5.3,13.2 10,13.2 Z" transform="translate(1045.50,1175.05)"/></g>
<line x1="1066.7" y1="1160.1" x2="1095.0" y2="1087.5" stroke="#1a1a22" stroke-width="1.1"/>
<polygon points="1095.4,1086.4 1089.2,1111.8 1082.8,1109.4" fill="#1d1d2b"/>
<circle cx="1307.0" cy="1400.5" r="30.8" fill="none" stroke="#1a1a22" stroke-width="1.1"/>
<g fill="none" stroke="#1d1d2b" stroke-width="3.4" stroke-linecap="butt" stroke-linejoin="miter"><path d="M2.6,7.2 C3.6,3.6 6.6,1.75 10,1.75 C14,1.75 16.4,4.4 16.4,7.9 C16.4,11.4 13.4,14.1 9,14.1 L7.6,14.1 M9,14.1 C14.6,14.1 18.3,17.6 18.3,22.4 C18.3,27.4 14.6,30.25 10,30.25 C6,30.25 3,28.2 1.6,25.2" transform="translate(1297.00,1386.80)"/></g>
<line x1="1329.0" y1="1378.9" x2="1410.0" y2="1299.5" stroke="#1a1a22" stroke-width="1.1"/>
<polygon points="1410.9,1298.7 1394.7,1319.3 1389.9,1314.4" fill="#1d1d2b"/>
<circle cx="1378.0" cy="1441.8" r="30.8" fill="none" stroke="#1a1a22" stroke-width="1.1"/>
<g fill="none" stroke="#1d1d2b" stroke-width="3.4" stroke-linecap="butt" stroke-linejoin="miter"><path d="M10,1.75 C14.7,1.75 18.3,5.4 18.3,10.25 C18.3,15.1 14.7,18.8 10,18.8 C5.3,18.8 1.7,15.1 1.7,10.25 C1.7,5.4 5.3,1.75 10,1.75 Z M17.6,14.4 L6.8,32" transform="translate(1368.00,1428.05)"/></g>
<line x1="1403.9" y1="1425.1" x2="1443.0" y2="1400.0" stroke="#1a1a22" stroke-width="1.1"/>
<polygon points="1444.0,1399.4 1424.0,1416.3 1420.3,1410.5" fill="#1d1d2b"/>
<circle cx="1449.5" cy="1483.0" r="30.8" fill="none" stroke="#1a1a22" stroke-width="1.1"/>
<g fill="none" stroke="#1d1d2b" stroke-width="3.4" stroke-linecap="butt" stroke-linejoin="miter"><path d="M6.2,2.2 L11,1.75 L11,32" transform="translate(1427.40,1469.30)"/><path d="M10,1.75 C14.7,1.75 18.3,5.4 18.3,10.25 C18.3,15.1 14.7,18.8 10,18.8 C5.3,18.8 1.7,15.1 1.7,10.25 C1.7,5.4 5.3,1.75 10,1.75 Z M17.6,14.4 L6.8,32" transform="translate(1451.60,1469.30)"/></g>
<line x1="1474.8" y1="1465.5" x2="1573.8" y2="1397.0" stroke="#1a1a22" stroke-width="1.1"/>
<polygon points="1574.7,1396.3 1555.3,1413.9 1551.4,1408.3" fill="#1d1d2b"/>
<circle cx="1521.2" cy="1523.8" r="30.8" fill="none" stroke="#1a1a22" stroke-width="1.1"/>
<g fill="none" stroke="#1d1d2b" stroke-width="3.4" stroke-linecap="butt" stroke-linejoin="miter"><path d="M6.2,2.2 L11,1.75 L11,32" transform="translate(1499.15,1510.05)"/><path d="M17.4,1.75 L5,1.75 L4,14.2 C6,12.7 8,12.1 10.4,12.1 C15.4,12.1 18.4,15.7 18.4,21.1 C18.4,26.6 14.9,30.25 10,30.25 C6.4,30.25 3.4,28.5 1.7,25.6" transform="translate(1523.35,1510.05)"/></g>
<line x1="1542.2" y1="1501.2" x2="1620.0" y2="1417.5" stroke="#1a1a22" stroke-width="1.1"/>
<polygon points="1620.8,1416.6 1605.6,1438.0 1600.6,1433.4" fill="#1d1d2b"/>
<circle cx="1598.8" cy="1559.2" r="30.8" fill="none" stroke="#1a1a22" stroke-width="1.1"/>
<g fill="none" stroke="#1d1d2b" stroke-width="3.4" stroke-linecap="butt" stroke-linejoin="miter"><path d="M6.2,2.2 L11,1.75 L11,32" transform="translate(1576.65,1545.55)"/><path d="M1.4,1.75 L19.2,1.75 L7,32" transform="translate(1600.85,1545.55)"/></g>
<line x1="1615.4" y1="1533.3" x2="1670.0" y2="1448.0" stroke="#1a1a22" stroke-width="1.1"/>
<polygon points="1670.6,1447.0 1659.5,1470.7 1653.8,1467.1" fill="#1d1d2b"/>
<circle cx="1341.2" cy="1517.0" r="30.8" fill="none" stroke="#1a1a22" stroke-width="1.1"/>
<g fill="none" stroke="#1d1d2b" stroke-width="3.4" stroke-linecap="butt" stroke-linejoin="miter"><path d="M10,1.75 C13.6,1.75 16.4,4.6 16.4,8 C16.4,11.4 13.6,14.2 10,14.2 C6.4,14.2 3.6,11.4 3.6,8 C3.6,4.6 6.4,1.75 10,1.75 Z M10,14.2 C14.6,14.2 18.2,17.8 18.2,22.2 C18.2,26.7 14.6,30.25 10,30.25 C5.4,30.25 1.8,26.7 1.8,22.2 C1.8,17.8 5.4,14.2 10,14.2 Z" transform="translate(1331.25,1503.30)"/></g>
<line x1="1310.9" y1="1522.1" x2="1182.6" y2="1543.6" stroke="#1a1a22" stroke-width="1.1"/>
<polygon points="1181.4,1543.8 1206.5,1536.1 1207.6,1542.9" fill="#1d1d2b"/>
<circle cx="1343.0" cy="1596.8" r="30.8" fill="none" stroke="#1a1a22" stroke-width="1.1"/>
<g fill="none" stroke="#1d1d2b" stroke-width="3.4" stroke-linecap="butt" stroke-linejoin="miter"><path d="M17.4,1.75 L5,1.75 L4,14.2 C6,12.7 8,12.1 10.4,12.1 C15.4,12.1 18.4,15.7 18.4,21.1 C18.4,26.6 14.9,30.25 10,30.25 C6.4,30.25 3.4,28.5 1.7,25.6" transform="translate(1333.00,1583.05)"/></g>
<line x1="1313.5" y1="1587.8" x2="1213.3" y2="1557.5" stroke="#1a1a22" stroke-width="1.1"/>
<polygon points="1212.2,1557.2 1238.0,1561.4 1236.1,1567.9" fill="#1d1d2b"/>
<circle cx="873.8" cy="893.2" r="30.8" fill="none" stroke="#1a1a22" stroke-width="1.1"/>
<line x1="900.4" y1="908.8" x2="1091.2" y2="1020.0" stroke="#1a1a22" stroke-width="1.1"/>
<polygon points="1092.3,1020.6 1068.1,1010.5 1071.5,1004.6" fill="#1d1d2b"/>
<circle cx="940.0" cy="870.0" r="30.8" fill="none" stroke="#1a1a22" stroke-width="1.1"/>
<line x1="962.6" y1="890.9" x2="1092.5" y2="1011.2" stroke="#1a1a22" stroke-width="1.1"/>
<polygon points="1093.4,1012.1 1072.0,996.9 1076.6,991.9" fill="#1d1d2b"/>
<circle cx="1006.8" cy="847.0" r="30.8" fill="none" stroke="#1a1a22" stroke-width="1.1"/>
<line x1="1023.0" y1="873.1" x2="1097.5" y2="992.5" stroke="#1a1a22" stroke-width="1.1"/>
<polygon points="1098.1,993.5 1081.5,973.3 1087.3,969.7" fill="#1d1d2b"/>
<g fill="none" stroke="#1d1d2b" stroke-width="3.4" stroke-linecap="butt" stroke-linejoin="miter"><path d="M6.2,2.2 L11,1.75 L11,32" transform="translate(850.80,833.30)"/><path d="M10,1.75 C13.6,1.75 16.4,4.6 16.4,8 C16.4,11.4 13.6,14.2 10,14.2 C6.4,14.2 3.6,11.4 3.6,8 C3.6,4.6 6.4,1.75 10,1.75 Z M10,14.2 C14.6,14.2 18.2,17.8 18.2,22.2 C18.2,26.7 14.6,30.25 10,30.25 C5.4,30.25 1.8,26.7 1.8,22.2 C1.8,17.8 5.4,14.2 10,14.2 Z" transform="translate(875.00,833.30)"/></g>
<g fill="none" stroke="#1d1d2b" stroke-width="3.4" stroke-linecap="butt" stroke-linejoin="miter"><path d="M6.2,2.2 L11,1.75 L11,32" transform="translate(911.70,833.30)"/><path d="M17.4,1.75 L5,1.75 L4,14.2 C6,12.7 8,12.1 10.4,12.1 C15.4,12.1 18.4,15.7 18.4,21.1 C18.4,26.6 14.9,30.25 10,30.25 C6.4,30.25 3.4,28.5 1.7,25.6" transform="translate(935.90,833.30)"/></g>
<g fill="none" stroke="#1d1d2b" stroke-width="3.4" stroke-linecap="butt" stroke-linejoin="miter"><path d="M6.2,2.2 L11,1.75 L11,32" transform="translate(971.90,833.30)"/><path d="M10,1.75 C14.6,1.75 18.25,7.8 18.25,16 C18.25,24.2 14.6,30.25 10,30.25 C5.4,30.25 1.75,24.2 1.75,16 C1.75,7.8 5.4,1.75 10,1.75 Z" transform="translate(996.10,833.30)"/></g>
</svg>
</body></html>
